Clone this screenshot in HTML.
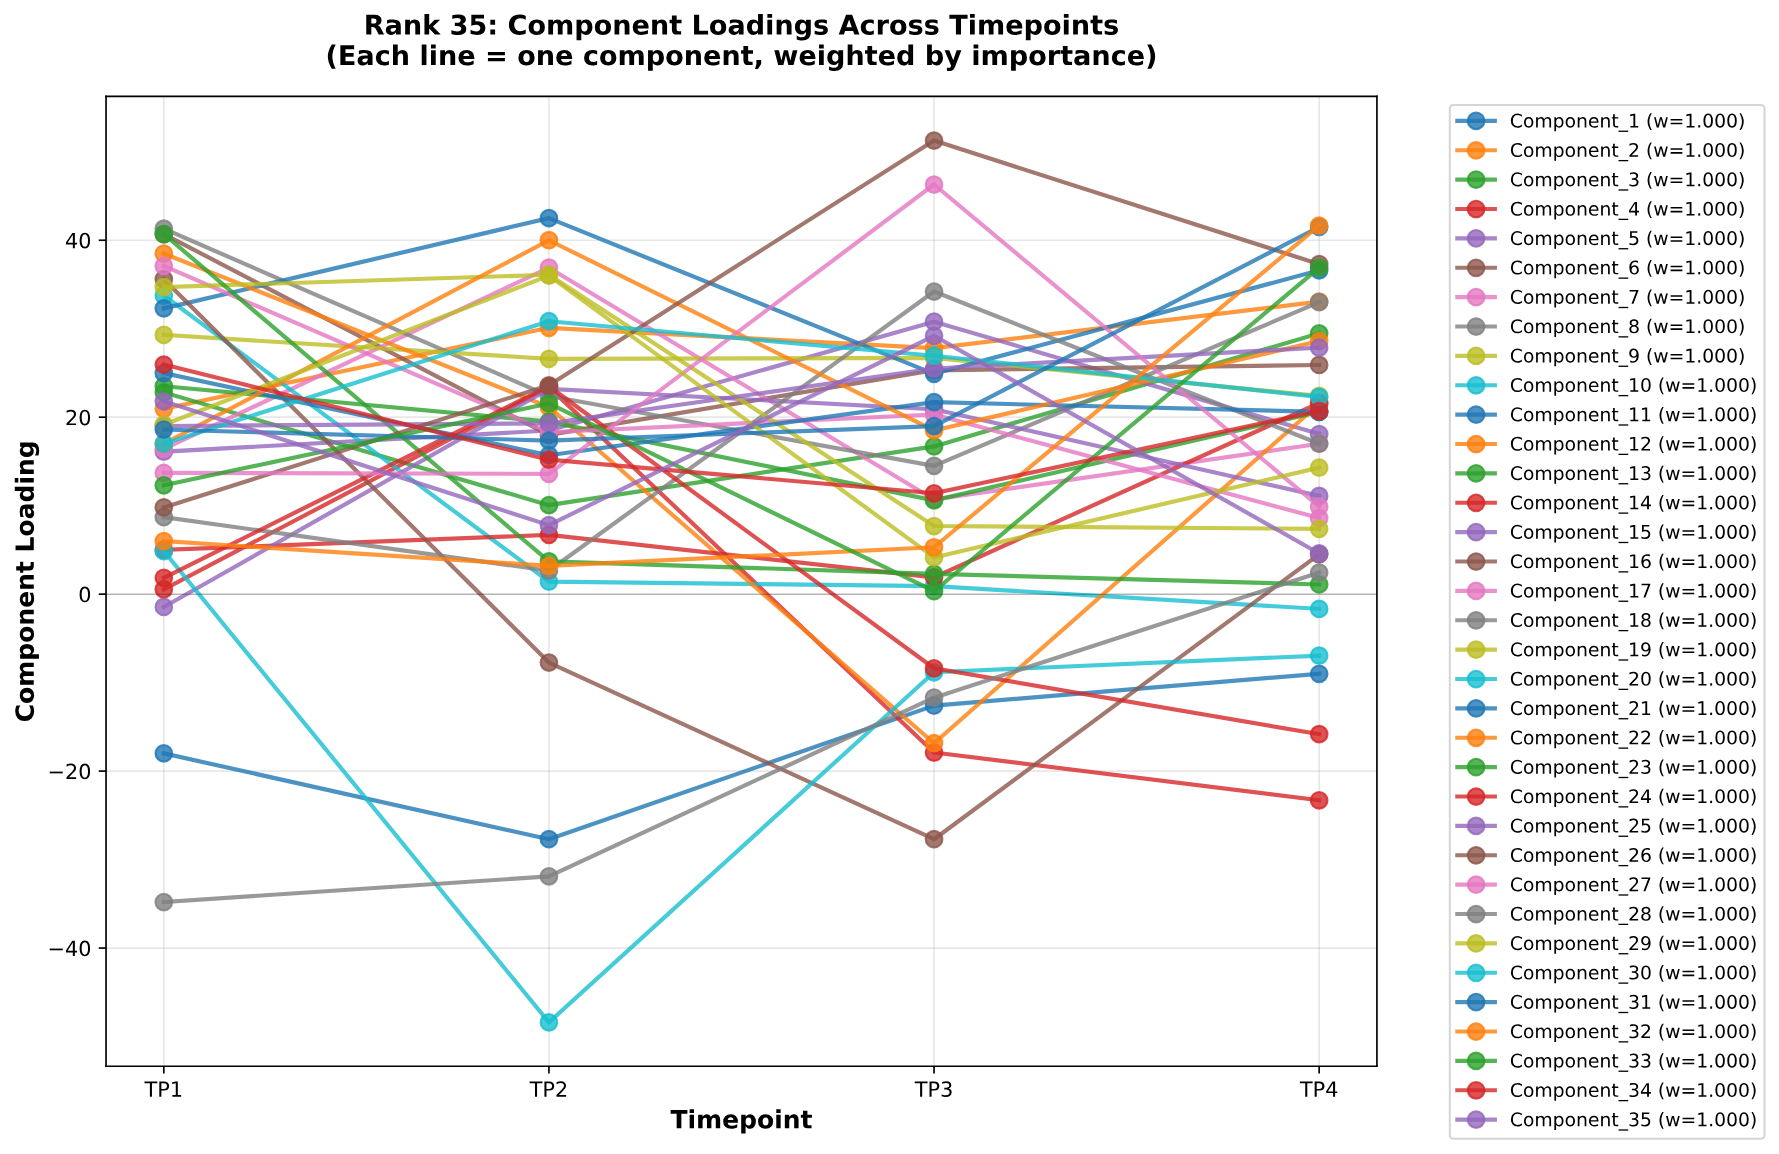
<!DOCTYPE html>
<html><head><meta charset="utf-8"><title>Rank 35: Component Loadings Across Timepoints</title>
<style>html,body{margin:0;padding:0;background:#fff;width:1779px;height:1154px;overflow:hidden;font-family:"Liberation Sans",sans-serif}svg{display:block}</style>
</head><body>
<svg width="1779" height="1154" viewBox="0 0 853.92 553.92" version="1.1">
<defs>
<style type="text/css">*{stroke-linejoin: round; stroke-linecap: butt}</style>
</defs>
<g id="figure_1">
<g id="patch_1">
<path d="M 0 553.92
L 853.92 553.92
L 853.92 0
L 0 0
z
" style="fill: #ffffff"/>
</g>
<g id="axes_1">
<g id="patch_2">
<path d="M 50.904 511.812
L 660.924 511.812
L 660.924 46.248
L 50.904 46.248
z
" style="fill: #ffffff"/>
</g>
<g id="matplotlib.axis_1">
<g id="xtick_1">
<g id="line2d_1">
<path d="M 78.632182 511.812
L 78.632182 46.248
" clip-path="url(#pc95b3b33d3)" style="fill: none; stroke: #b0b0b0; stroke-opacity: 0.3; stroke-width: 0.8; stroke-linecap: square"/>
</g>
<g id="line2d_2">
<defs>
<path id="m1504cfccaf" d="M 0 0
L 0 3.5
" style="stroke: #000000; stroke-width: 0.8"/>
</defs>
<g>
<use xlink:href="#m1504cfccaf" x="78.632182" y="511.812" style="stroke: #000000; stroke-width: 0.8"/>
</g>
</g>
<g id="text_1">
<!-- TP1 -->
<g transform="translate(69.382182 526.410437) scale(0.1 -0.1)">
<defs>
<path id="DejaVuSans-54" d="M -19 4666
L 3928 4666
L 3928 4134
L 2272 4134
L 2272 0
L 1638 0
L 1638 4134
L -19 4134
L -19 4666
z
" transform="scale(0.015625)"/>
<path id="DejaVuSans-50" d="M 1259 4147
L 1259 2394
L 2053 2394
Q 2494 2394 2734 2622
Q 2975 2850 2975 3272
Q 2975 3691 2734 3919
Q 2494 4147 2053 4147
L 1259 4147
z
M 628 4666
L 2053 4666
Q 2838 4666 3239 4311
Q 3641 3956 3641 3272
Q 3641 2581 3239 2228
Q 2838 1875 2053 1875
L 1259 1875
L 1259 0
L 628 0
L 628 4666
z
" transform="scale(0.015625)"/>
<path id="DejaVuSans-31" d="M 794 531
L 1825 531
L 1825 4091
L 703 3866
L 703 4441
L 1819 4666
L 2450 4666
L 2450 531
L 3481 531
L 3481 0
L 794 0
L 794 531
z
" transform="scale(0.015625)"/>
</defs>
<use xlink:href="#DejaVuSans-54"/>
<use xlink:href="#DejaVuSans-50" transform="translate(61.083984 0)"/>
<use xlink:href="#DejaVuSans-31" transform="translate(121.386719 0)"/>
</g>
</g>
</g>
<g id="xtick_2">
<g id="line2d_3">
<path d="M 263.486727 511.812
L 263.486727 46.248
" clip-path="url(#pc95b3b33d3)" style="fill: none; stroke: #b0b0b0; stroke-opacity: 0.3; stroke-width: 0.8; stroke-linecap: square"/>
</g>
<g id="line2d_4">
<g>
<use xlink:href="#m1504cfccaf" x="263.486727" y="511.812" style="stroke: #000000; stroke-width: 0.8"/>
</g>
</g>
<g id="text_2">
<!-- TP2 -->
<g transform="translate(254.236727 526.410437) scale(0.1 -0.1)">
<defs>
<path id="DejaVuSans-32" d="M 1228 531
L 3431 531
L 3431 0
L 469 0
L 469 531
Q 828 903 1448 1529
Q 2069 2156 2228 2338
Q 2531 2678 2651 2914
Q 2772 3150 2772 3378
Q 2772 3750 2511 3984
Q 2250 4219 1831 4219
Q 1534 4219 1204 4116
Q 875 4013 500 3803
L 500 4441
Q 881 4594 1212 4672
Q 1544 4750 1819 4750
Q 2544 4750 2975 4387
Q 3406 4025 3406 3419
Q 3406 3131 3298 2873
Q 3191 2616 2906 2266
Q 2828 2175 2409 1742
Q 1991 1309 1228 531
z
" transform="scale(0.015625)"/>
</defs>
<use xlink:href="#DejaVuSans-54"/>
<use xlink:href="#DejaVuSans-50" transform="translate(61.083984 0)"/>
<use xlink:href="#DejaVuSans-32" transform="translate(121.386719 0)"/>
</g>
</g>
</g>
<g id="xtick_3">
<g id="line2d_5">
<path d="M 448.341273 511.812
L 448.341273 46.248
" clip-path="url(#pc95b3b33d3)" style="fill: none; stroke: #b0b0b0; stroke-opacity: 0.3; stroke-width: 0.8; stroke-linecap: square"/>
</g>
<g id="line2d_6">
<g>
<use xlink:href="#m1504cfccaf" x="448.341273" y="511.812" style="stroke: #000000; stroke-width: 0.8"/>
</g>
</g>
<g id="text_3">
<!-- TP3 -->
<g transform="translate(439.091273 526.410437) scale(0.1 -0.1)">
<defs>
<path id="DejaVuSans-33" d="M 2597 2516
Q 3050 2419 3304 2112
Q 3559 1806 3559 1356
Q 3559 666 3084 287
Q 2609 -91 1734 -91
Q 1441 -91 1130 -33
Q 819 25 488 141
L 488 750
Q 750 597 1062 519
Q 1375 441 1716 441
Q 2309 441 2620 675
Q 2931 909 2931 1356
Q 2931 1769 2642 2001
Q 2353 2234 1838 2234
L 1294 2234
L 1294 2753
L 1863 2753
Q 2328 2753 2575 2939
Q 2822 3125 2822 3475
Q 2822 3834 2567 4026
Q 2313 4219 1838 4219
Q 1578 4219 1281 4162
Q 984 4106 628 3988
L 628 4550
Q 988 4650 1302 4700
Q 1616 4750 1894 4750
Q 2613 4750 3031 4423
Q 3450 4097 3450 3541
Q 3450 3153 3228 2886
Q 3006 2619 2597 2516
z
" transform="scale(0.015625)"/>
</defs>
<use xlink:href="#DejaVuSans-54"/>
<use xlink:href="#DejaVuSans-50" transform="translate(61.083984 0)"/>
<use xlink:href="#DejaVuSans-33" transform="translate(121.386719 0)"/>
</g>
</g>
</g>
<g id="xtick_4">
<g id="line2d_7">
<path d="M 633.195818 511.812
L 633.195818 46.248
" clip-path="url(#pc95b3b33d3)" style="fill: none; stroke: #b0b0b0; stroke-opacity: 0.3; stroke-width: 0.8; stroke-linecap: square"/>
</g>
<g id="line2d_8">
<g>
<use xlink:href="#m1504cfccaf" x="633.195818" y="511.812" style="stroke: #000000; stroke-width: 0.8"/>
</g>
</g>
<g id="text_4">
<!-- TP4 -->
<g transform="translate(623.945818 526.410437) scale(0.1 -0.1)">
<defs>
<path id="DejaVuSans-34" d="M 2419 4116
L 825 1625
L 2419 1625
L 2419 4116
z
M 2253 4666
L 3047 4666
L 3047 1625
L 3713 1625
L 3713 1100
L 3047 1100
L 3047 0
L 2419 0
L 2419 1100
L 313 1100
L 313 1709
L 2253 4666
z
" transform="scale(0.015625)"/>
</defs>
<use xlink:href="#DejaVuSans-54"/>
<use xlink:href="#DejaVuSans-50" transform="translate(61.083984 0)"/>
<use xlink:href="#DejaVuSans-34" transform="translate(121.386719 0)"/>
</g>
</g>
</g>
<g id="text_5">
<!-- Timepoint -->
<g transform="translate(321.829313 541.60825) scale(0.12 -0.12)">
<defs>
<path id="DejaVuSans-Bold-54" d="M 31 4666
L 4331 4666
L 4331 3756
L 2784 3756
L 2784 0
L 1581 0
L 1581 3756
L 31 3756
L 31 4666
z
" transform="scale(0.015625)"/>
<path id="DejaVuSans-Bold-69" d="M 538 3500
L 1656 3500
L 1656 0
L 538 0
L 538 3500
z
M 538 4863
L 1656 4863
L 1656 3950
L 538 3950
L 538 4863
z
" transform="scale(0.015625)"/>
<path id="DejaVuSans-Bold-6d" d="M 3781 2919
Q 3994 3244 4286 3414
Q 4578 3584 4928 3584
Q 5531 3584 5847 3212
Q 6163 2841 6163 2131
L 6163 0
L 5038 0
L 5038 1825
Q 5041 1866 5042 1909
Q 5044 1953 5044 2034
Q 5044 2406 4934 2573
Q 4825 2741 4581 2741
Q 4263 2741 4089 2478
Q 3916 2216 3909 1719
L 3909 0
L 2784 0
L 2784 1825
Q 2784 2406 2684 2573
Q 2584 2741 2328 2741
Q 2006 2741 1831 2477
Q 1656 2213 1656 1722
L 1656 0
L 531 0
L 531 3500
L 1656 3500
L 1656 2988
Q 1863 3284 2130 3434
Q 2397 3584 2719 3584
Q 3081 3584 3359 3409
Q 3638 3234 3781 2919
z
" transform="scale(0.015625)"/>
<path id="DejaVuSans-Bold-65" d="M 4031 1759
L 4031 1441
L 1416 1441
Q 1456 1047 1700 850
Q 1944 653 2381 653
Q 2734 653 3104 758
Q 3475 863 3866 1075
L 3866 213
Q 3469 63 3072 -14
Q 2675 -91 2278 -91
Q 1328 -91 801 392
Q 275 875 275 1747
Q 275 2603 792 3093
Q 1309 3584 2216 3584
Q 3041 3584 3536 3087
Q 4031 2591 4031 1759
z
M 2881 2131
Q 2881 2450 2695 2645
Q 2509 2841 2209 2841
Q 1884 2841 1681 2658
Q 1478 2475 1428 2131
L 2881 2131
z
" transform="scale(0.015625)"/>
<path id="DejaVuSans-Bold-70" d="M 1656 506
L 1656 -1331
L 538 -1331
L 538 3500
L 1656 3500
L 1656 2988
Q 1888 3294 2169 3439
Q 2450 3584 2816 3584
Q 3463 3584 3878 3070
Q 4294 2556 4294 1747
Q 4294 938 3878 423
Q 3463 -91 2816 -91
Q 2450 -91 2169 54
Q 1888 200 1656 506
z
M 2400 2772
Q 2041 2772 1848 2508
Q 1656 2244 1656 1747
Q 1656 1250 1848 986
Q 2041 722 2400 722
Q 2759 722 2948 984
Q 3138 1247 3138 1747
Q 3138 2247 2948 2509
Q 2759 2772 2400 2772
z
" transform="scale(0.015625)"/>
<path id="DejaVuSans-Bold-6f" d="M 2203 2784
Q 1831 2784 1636 2517
Q 1441 2250 1441 1747
Q 1441 1244 1636 976
Q 1831 709 2203 709
Q 2569 709 2762 976
Q 2956 1244 2956 1747
Q 2956 2250 2762 2517
Q 2569 2784 2203 2784
z
M 2203 3584
Q 3106 3584 3614 3096
Q 4122 2609 4122 1747
Q 4122 884 3614 396
Q 3106 -91 2203 -91
Q 1297 -91 786 396
Q 275 884 275 1747
Q 275 2609 786 3096
Q 1297 3584 2203 3584
z
" transform="scale(0.015625)"/>
<path id="DejaVuSans-Bold-6e" d="M 4056 2131
L 4056 0
L 2931 0
L 2931 347
L 2931 1631
Q 2931 2084 2911 2256
Q 2891 2428 2841 2509
Q 2775 2619 2662 2680
Q 2550 2741 2406 2741
Q 2056 2741 1856 2470
Q 1656 2200 1656 1722
L 1656 0
L 538 0
L 538 3500
L 1656 3500
L 1656 2988
Q 1909 3294 2193 3439
Q 2478 3584 2822 3584
Q 3428 3584 3742 3212
Q 4056 2841 4056 2131
z
" transform="scale(0.015625)"/>
<path id="DejaVuSans-Bold-74" d="M 1759 4494
L 1759 3500
L 2913 3500
L 2913 2700
L 1759 2700
L 1759 1216
Q 1759 972 1856 886
Q 1953 800 2241 800
L 2816 800
L 2816 0
L 1856 0
Q 1194 0 917 276
Q 641 553 641 1216
L 641 2700
L 84 2700
L 84 3500
L 641 3500
L 641 4494
L 1759 4494
z
" transform="scale(0.015625)"/>
</defs>
<use xlink:href="#DejaVuSans-Bold-54"/>
<use xlink:href="#DejaVuSans-Bold-69" transform="translate(68.212891 0)"/>
<use xlink:href="#DejaVuSans-Bold-6d" transform="translate(102.490234 0)"/>
<use xlink:href="#DejaVuSans-Bold-65" transform="translate(206.689453 0)"/>
<use xlink:href="#DejaVuSans-Bold-70" transform="translate(274.511719 0)"/>
<use xlink:href="#DejaVuSans-Bold-6f" transform="translate(346.09375 0)"/>
<use xlink:href="#DejaVuSans-Bold-69" transform="translate(414.794922 0)"/>
<use xlink:href="#DejaVuSans-Bold-6e" transform="translate(449.072266 0)"/>
<use xlink:href="#DejaVuSans-Bold-74" transform="translate(520.263672 0)"/>
</g>
</g>
</g>
<g id="matplotlib.axis_2">
<g id="ytick_1">
<g id="line2d_9">
<path d="M 50.904 455.062005
L 660.924 455.062005
" clip-path="url(#pc95b3b33d3)" style="fill: none; stroke: #b0b0b0; stroke-opacity: 0.3; stroke-width: 0.8; stroke-linecap: square"/>
</g>
<g id="line2d_10">
<defs>
<path id="m5d545ce8f8" d="M 0 0
L -3.5 0
" style="stroke: #000000; stroke-width: 0.8"/>
</defs>
<g>
<use xlink:href="#m5d545ce8f8" x="50.904" y="455.062005" style="stroke: #000000; stroke-width: 0.8"/>
</g>
</g>
<g id="text_6">
<!-- −40 -->
<g transform="translate(22.799312 458.861223) scale(0.1 -0.1)">
<defs>
<path id="DejaVuSans-2212" d="M 678 2272
L 4684 2272
L 4684 1741
L 678 1741
L 678 2272
z
" transform="scale(0.015625)"/>
<path id="DejaVuSans-30" d="M 2034 4250
Q 1547 4250 1301 3770
Q 1056 3291 1056 2328
Q 1056 1369 1301 889
Q 1547 409 2034 409
Q 2525 409 2770 889
Q 3016 1369 3016 2328
Q 3016 3291 2770 3770
Q 2525 4250 2034 4250
z
M 2034 4750
Q 2819 4750 3233 4129
Q 3647 3509 3647 2328
Q 3647 1150 3233 529
Q 2819 -91 2034 -91
Q 1250 -91 836 529
Q 422 1150 422 2328
Q 422 3509 836 4129
Q 1250 4750 2034 4750
z
" transform="scale(0.015625)"/>
</defs>
<use xlink:href="#DejaVuSans-2212"/>
<use xlink:href="#DejaVuSans-34" transform="translate(83.789062 0)"/>
<use xlink:href="#DejaVuSans-30" transform="translate(147.412109 0)"/>
</g>
</g>
</g>
<g id="ytick_2">
<g id="line2d_11">
<path d="M 50.904 370.125994
L 660.924 370.125994
" clip-path="url(#pc95b3b33d3)" style="fill: none; stroke: #b0b0b0; stroke-opacity: 0.3; stroke-width: 0.8; stroke-linecap: square"/>
</g>
<g id="line2d_12">
<g>
<use xlink:href="#m5d545ce8f8" x="50.904" y="370.125994" style="stroke: #000000; stroke-width: 0.8"/>
</g>
</g>
<g id="text_7">
<!-- −20 -->
<g transform="translate(22.799312 373.925213) scale(0.1 -0.1)">
<use xlink:href="#DejaVuSans-2212"/>
<use xlink:href="#DejaVuSans-32" transform="translate(83.789062 0)"/>
<use xlink:href="#DejaVuSans-30" transform="translate(147.412109 0)"/>
</g>
</g>
</g>
<g id="ytick_3">
<g id="line2d_13">
<path d="M 50.904 285.189984
L 660.924 285.189984
" clip-path="url(#pc95b3b33d3)" style="fill: none; stroke: #b0b0b0; stroke-opacity: 0.3; stroke-width: 0.8; stroke-linecap: square"/>
</g>
<g id="line2d_14">
<g>
<use xlink:href="#m5d545ce8f8" x="50.904" y="285.189984" style="stroke: #000000; stroke-width: 0.8"/>
</g>
</g>
<g id="text_8">
<!-- 0 -->
<g transform="translate(37.5415 288.989203) scale(0.1 -0.1)">
<use xlink:href="#DejaVuSans-30"/>
</g>
</g>
</g>
<g id="ytick_4">
<g id="line2d_15">
<path d="M 50.904 200.253974
L 660.924 200.253974
" clip-path="url(#pc95b3b33d3)" style="fill: none; stroke: #b0b0b0; stroke-opacity: 0.3; stroke-width: 0.8; stroke-linecap: square"/>
</g>
<g id="line2d_16">
<g>
<use xlink:href="#m5d545ce8f8" x="50.904" y="200.253974" style="stroke: #000000; stroke-width: 0.8"/>
</g>
</g>
<g id="text_9">
<!-- 20 -->
<g transform="translate(31.179 204.053193) scale(0.1 -0.1)">
<use xlink:href="#DejaVuSans-32"/>
<use xlink:href="#DejaVuSans-30" transform="translate(63.623047 0)"/>
</g>
</g>
</g>
<g id="ytick_5">
<g id="line2d_17">
<path d="M 50.904 115.317964
L 660.924 115.317964
" clip-path="url(#pc95b3b33d3)" style="fill: none; stroke: #b0b0b0; stroke-opacity: 0.3; stroke-width: 0.8; stroke-linecap: square"/>
</g>
<g id="line2d_18">
<g>
<use xlink:href="#m5d545ce8f8" x="50.904" y="115.317964" style="stroke: #000000; stroke-width: 0.8"/>
</g>
</g>
<g id="text_10">
<!-- 40 -->
<g transform="translate(31.179 119.117182) scale(0.1 -0.1)">
<use xlink:href="#DejaVuSans-34"/>
<use xlink:href="#DejaVuSans-30" transform="translate(63.623047 0)"/>
</g>
</g>
</g>
<g id="text_11">
<!-- Component Loading -->
<g transform="translate(16.209937 346.705312) rotate(-90) scale(0.12 -0.12)">
<defs>
<path id="DejaVuSans-Bold-43" d="M 4288 256
Q 3956 84 3597 -3
Q 3238 -91 2847 -91
Q 1681 -91 1000 561
Q 319 1213 319 2328
Q 319 3447 1000 4098
Q 1681 4750 2847 4750
Q 3238 4750 3597 4662
Q 3956 4575 4288 4403
L 4288 3438
Q 3953 3666 3628 3772
Q 3303 3878 2944 3878
Q 2300 3878 1931 3465
Q 1563 3053 1563 2328
Q 1563 1606 1931 1193
Q 2300 781 2944 781
Q 3303 781 3628 887
Q 3953 994 4288 1222
L 4288 256
z
" transform="scale(0.015625)"/>
<path id="DejaVuSans-Bold-20" transform="scale(0.015625)"/>
<path id="DejaVuSans-Bold-4c" d="M 588 4666
L 1791 4666
L 1791 909
L 3903 909
L 3903 0
L 588 0
L 588 4666
z
" transform="scale(0.015625)"/>
<path id="DejaVuSans-Bold-61" d="M 2106 1575
Q 1756 1575 1579 1456
Q 1403 1338 1403 1106
Q 1403 894 1545 773
Q 1688 653 1941 653
Q 2256 653 2472 879
Q 2688 1106 2688 1447
L 2688 1575
L 2106 1575
z
M 3816 1997
L 3816 0
L 2688 0
L 2688 519
Q 2463 200 2181 54
Q 1900 -91 1497 -91
Q 953 -91 614 226
Q 275 544 275 1050
Q 275 1666 698 1953
Q 1122 2241 2028 2241
L 2688 2241
L 2688 2328
Q 2688 2594 2478 2717
Q 2269 2841 1825 2841
Q 1466 2841 1156 2769
Q 847 2697 581 2553
L 581 3406
Q 941 3494 1303 3539
Q 1666 3584 2028 3584
Q 2975 3584 3395 3211
Q 3816 2838 3816 1997
z
" transform="scale(0.015625)"/>
<path id="DejaVuSans-Bold-64" d="M 2919 2988
L 2919 4863
L 4044 4863
L 4044 0
L 2919 0
L 2919 506
Q 2688 197 2409 53
Q 2131 -91 1766 -91
Q 1119 -91 703 423
Q 288 938 288 1747
Q 288 2556 703 3070
Q 1119 3584 1766 3584
Q 2128 3584 2408 3439
Q 2688 3294 2919 2988
z
M 2181 722
Q 2541 722 2730 984
Q 2919 1247 2919 1747
Q 2919 2247 2730 2509
Q 2541 2772 2181 2772
Q 1825 2772 1636 2509
Q 1447 2247 1447 1747
Q 1447 1247 1636 984
Q 1825 722 2181 722
z
" transform="scale(0.015625)"/>
<path id="DejaVuSans-Bold-67" d="M 2919 594
Q 2688 288 2409 144
Q 2131 0 1766 0
Q 1125 0 706 504
Q 288 1009 288 1791
Q 288 2575 706 3076
Q 1125 3578 1766 3578
Q 2131 3578 2409 3434
Q 2688 3291 2919 2981
L 2919 3500
L 4044 3500
L 4044 353
Q 4044 -491 3511 -936
Q 2978 -1381 1966 -1381
Q 1638 -1381 1331 -1331
Q 1025 -1281 716 -1178
L 716 -306
Q 1009 -475 1290 -558
Q 1572 -641 1856 -641
Q 2406 -641 2662 -400
Q 2919 -159 2919 353
L 2919 594
z
M 2181 2772
Q 1834 2772 1640 2515
Q 1447 2259 1447 1791
Q 1447 1309 1634 1061
Q 1822 813 2181 813
Q 2531 813 2725 1069
Q 2919 1325 2919 1791
Q 2919 2259 2725 2515
Q 2531 2772 2181 2772
z
" transform="scale(0.015625)"/>
</defs>
<use xlink:href="#DejaVuSans-Bold-43"/>
<use xlink:href="#DejaVuSans-Bold-6f" transform="translate(73.388672 0)"/>
<use xlink:href="#DejaVuSans-Bold-6d" transform="translate(142.089844 0)"/>
<use xlink:href="#DejaVuSans-Bold-70" transform="translate(246.289062 0)"/>
<use xlink:href="#DejaVuSans-Bold-6f" transform="translate(317.871094 0)"/>
<use xlink:href="#DejaVuSans-Bold-6e" transform="translate(386.572266 0)"/>
<use xlink:href="#DejaVuSans-Bold-65" transform="translate(457.763672 0)"/>
<use xlink:href="#DejaVuSans-Bold-6e" transform="translate(525.585938 0)"/>
<use xlink:href="#DejaVuSans-Bold-74" transform="translate(596.777344 0)"/>
<use xlink:href="#DejaVuSans-Bold-20" transform="translate(644.580078 0)"/>
<use xlink:href="#DejaVuSans-Bold-4c" transform="translate(679.394531 0)"/>
<use xlink:href="#DejaVuSans-Bold-6f" transform="translate(743.115234 0)"/>
<use xlink:href="#DejaVuSans-Bold-61" transform="translate(811.816406 0)"/>
<use xlink:href="#DejaVuSans-Bold-64" transform="translate(879.296875 0)"/>
<use xlink:href="#DejaVuSans-Bold-69" transform="translate(950.878906 0)"/>
<use xlink:href="#DejaVuSans-Bold-6e" transform="translate(985.15625 0)"/>
<use xlink:href="#DejaVuSans-Bold-67" transform="translate(1056.347656 0)"/>
</g>
</g>
</g>
<g id="line2d_19">
<path d="M 78.632182 361.632393
L 263.486727 402.826358
L 448.341273 338.699671
L 633.195818 323.411189
" clip-path="url(#pc95b3b33d3)" style="fill: none; stroke: #1f77b4; stroke-opacity: 0.8; stroke-width: 2; stroke-linecap: square"/>
<defs>
<path id="m16b95cd49c" d="M 0 4
C 1.060812 4 2.078319 3.578535 2.828427 2.828427
C 3.578535 2.078319 4 1.060812 4 0
C 4 -1.060812 3.578535 -2.078319 2.828427 -2.828427
C 2.078319 -3.578535 1.060812 -4 0 -4
C -1.060812 -4 -2.078319 -3.578535 -2.828427 -2.828427
C -3.578535 -2.078319 -4 -1.060812 -4 0
C -4 1.060812 -3.578535 2.078319 -2.828427 2.828427
C -2.078319 3.578535 -1.060812 4 0 4
z
" style="stroke: #1f77b4; stroke-opacity: 0.8"/>
</defs>
<g clip-path="url(#pc95b3b33d3)">
<use xlink:href="#m16b95cd49c" x="78.632182" y="361.632393" style="fill: #1f77b4; fill-opacity: 0.8; stroke: #1f77b4; stroke-opacity: 0.8"/>
<use xlink:href="#m16b95cd49c" x="263.486727" y="402.826358" style="fill: #1f77b4; fill-opacity: 0.8; stroke: #1f77b4; stroke-opacity: 0.8"/>
<use xlink:href="#m16b95cd49c" x="448.341273" y="338.699671" style="fill: #1f77b4; fill-opacity: 0.8; stroke: #1f77b4; stroke-opacity: 0.8"/>
<use xlink:href="#m16b95cd49c" x="633.195818" y="323.411189" style="fill: #1f77b4; fill-opacity: 0.8; stroke: #1f77b4; stroke-opacity: 0.8"/>
</g>
</g>
<g id="line2d_20">
<path d="M 78.632182 196.219513
L 263.486727 157.361289
L 448.341273 167.12893
L 633.195818 144.790759
" clip-path="url(#pc95b3b33d3)" style="fill: none; stroke: #ff7f0e; stroke-opacity: 0.8; stroke-width: 2; stroke-linecap: square"/>
<defs>
<path id="mc286945798" d="M 0 4
C 1.060812 4 2.078319 3.578535 2.828427 2.828427
C 3.578535 2.078319 4 1.060812 4 0
C 4 -1.060812 3.578535 -2.078319 2.828427 -2.828427
C 2.078319 -3.578535 1.060812 -4 0 -4
C -1.060812 -4 -2.078319 -3.578535 -2.828427 -2.828427
C -3.578535 -2.078319 -4 -1.060812 -4 0
C -4 1.060812 -3.578535 2.078319 -2.828427 2.828427
C -2.078319 3.578535 -1.060812 4 0 4
z
" style="stroke: #ff7f0e; stroke-opacity: 0.8"/>
</defs>
<g clip-path="url(#pc95b3b33d3)">
<use xlink:href="#mc286945798" x="78.632182" y="196.219513" style="fill: #ff7f0e; fill-opacity: 0.8; stroke: #ff7f0e; stroke-opacity: 0.8"/>
<use xlink:href="#mc286945798" x="263.486727" y="157.361289" style="fill: #ff7f0e; fill-opacity: 0.8; stroke: #ff7f0e; stroke-opacity: 0.8"/>
<use xlink:href="#mc286945798" x="448.341273" y="167.12893" style="fill: #ff7f0e; fill-opacity: 0.8; stroke: #ff7f0e; stroke-opacity: 0.8"/>
<use xlink:href="#mc286945798" x="633.195818" y="144.790759" style="fill: #ff7f0e; fill-opacity: 0.8; stroke: #ff7f0e; stroke-opacity: 0.8"/>
</g>
</g>
<g id="line2d_21">
<path d="M 78.632182 188.362932
L 263.486727 242.467171
L 448.341273 214.268416
L 633.195818 160.036773
" clip-path="url(#pc95b3b33d3)" style="fill: none; stroke: #2ca02c; stroke-opacity: 0.8; stroke-width: 2; stroke-linecap: square"/>
<defs>
<path id="ma26eeebb79" d="M 0 4
C 1.060812 4 2.078319 3.578535 2.828427 2.828427
C 3.578535 2.078319 4 1.060812 4 0
C 4 -1.060812 3.578535 -2.078319 2.828427 -2.828427
C 2.078319 -3.578535 1.060812 -4 0 -4
C -1.060812 -4 -2.078319 -3.578535 -2.828427 -2.828427
C -3.578535 -2.078319 -4 -1.060812 -4 0
C -4 1.060812 -3.578535 2.078319 -2.828427 2.828427
C -2.078319 3.578535 -1.060812 4 0 4
z
" style="stroke: #2ca02c; stroke-opacity: 0.8"/>
</defs>
<g clip-path="url(#pc95b3b33d3)">
<use xlink:href="#ma26eeebb79" x="78.632182" y="188.362932" style="fill: #2ca02c; fill-opacity: 0.8; stroke: #2ca02c; stroke-opacity: 0.8"/>
<use xlink:href="#ma26eeebb79" x="263.486727" y="242.467171" style="fill: #2ca02c; fill-opacity: 0.8; stroke: #2ca02c; stroke-opacity: 0.8"/>
<use xlink:href="#ma26eeebb79" x="448.341273" y="214.268416" style="fill: #2ca02c; fill-opacity: 0.8; stroke: #2ca02c; stroke-opacity: 0.8"/>
<use xlink:href="#ma26eeebb79" x="633.195818" y="160.036773" style="fill: #2ca02c; fill-opacity: 0.8; stroke: #2ca02c; stroke-opacity: 0.8"/>
</g>
</g>
<g id="line2d_22">
<path d="M 78.632182 282.896712
L 263.486727 185.814852
L 448.341273 361.207713
L 633.195818 384.140436
" clip-path="url(#pc95b3b33d3)" style="fill: none; stroke: #d62728; stroke-opacity: 0.8; stroke-width: 2; stroke-linecap: square"/>
<defs>
<path id="m9cf5913db1" d="M 0 4
C 1.060812 4 2.078319 3.578535 2.828427 2.828427
C 3.578535 2.078319 4 1.060812 4 0
C 4 -1.060812 3.578535 -2.078319 2.828427 -2.828427
C 2.078319 -3.578535 1.060812 -4 0 -4
C -1.060812 -4 -2.078319 -3.578535 -2.828427 -2.828427
C -3.578535 -2.078319 -4 -1.060812 -4 0
C -4 1.060812 -3.578535 2.078319 -2.828427 2.828427
C -2.078319 3.578535 -1.060812 4 0 4
z
" style="stroke: #d62728; stroke-opacity: 0.8"/>
</defs>
<g clip-path="url(#pc95b3b33d3)">
<use xlink:href="#m9cf5913db1" x="78.632182" y="282.896712" style="fill: #d62728; fill-opacity: 0.8; stroke: #d62728; stroke-opacity: 0.8"/>
<use xlink:href="#m9cf5913db1" x="263.486727" y="185.814852" style="fill: #d62728; fill-opacity: 0.8; stroke: #d62728; stroke-opacity: 0.8"/>
<use xlink:href="#m9cf5913db1" x="448.341273" y="361.207713" style="fill: #d62728; fill-opacity: 0.8; stroke: #d62728; stroke-opacity: 0.8"/>
<use xlink:href="#m9cf5913db1" x="633.195818" y="384.140436" style="fill: #d62728; fill-opacity: 0.8; stroke: #d62728; stroke-opacity: 0.8"/>
</g>
</g>
<g id="line2d_23">
<path d="M 78.632182 216.816496
L 263.486727 206.624175
L 448.341273 154.388528
L 633.195818 208.322895
" clip-path="url(#pc95b3b33d3)" style="fill: none; stroke: #9467bd; stroke-opacity: 0.8; stroke-width: 2; stroke-linecap: square"/>
<defs>
<path id="m5d28bd0f11" d="M 0 4
C 1.060812 4 2.078319 3.578535 2.828427 2.828427
C 3.578535 2.078319 4 1.060812 4 0
C 4 -1.060812 3.578535 -2.078319 2.828427 -2.828427
C 2.078319 -3.578535 1.060812 -4 0 -4
C -1.060812 -4 -2.078319 -3.578535 -2.828427 -2.828427
C -3.578535 -2.078319 -4 -1.060812 -4 0
C -4 1.060812 -3.578535 2.078319 -2.828427 2.828427
C -2.078319 3.578535 -1.060812 4 0 4
z
" style="stroke: #9467bd; stroke-opacity: 0.8"/>
</defs>
<g clip-path="url(#pc95b3b33d3)">
<use xlink:href="#m5d28bd0f11" x="78.632182" y="216.816496" style="fill: #9467bd; fill-opacity: 0.8; stroke: #9467bd; stroke-opacity: 0.8"/>
<use xlink:href="#m5d28bd0f11" x="263.486727" y="206.624175" style="fill: #9467bd; fill-opacity: 0.8; stroke: #9467bd; stroke-opacity: 0.8"/>
<use xlink:href="#m5d28bd0f11" x="448.341273" y="154.388528" style="fill: #9467bd; fill-opacity: 0.8; stroke: #9467bd; stroke-opacity: 0.8"/>
<use xlink:href="#m5d28bd0f11" x="633.195818" y="208.322895" style="fill: #9467bd; fill-opacity: 0.8; stroke: #9467bd; stroke-opacity: 0.8"/>
</g>
</g>
<g id="line2d_24">
<path d="M 78.632182 112.345203
L 263.486727 208.747575
L 448.341273 177.745931
L 633.195818 175.197851
" clip-path="url(#pc95b3b33d3)" style="fill: none; stroke: #8c564b; stroke-opacity: 0.8; stroke-width: 2; stroke-linecap: square"/>
<defs>
<path id="m76d8d4e232" d="M 0 4
C 1.060812 4 2.078319 3.578535 2.828427 2.828427
C 3.578535 2.078319 4 1.060812 4 0
C 4 -1.060812 3.578535 -2.078319 2.828427 -2.828427
C 2.078319 -3.578535 1.060812 -4 0 -4
C -1.060812 -4 -2.078319 -3.578535 -2.828427 -2.828427
C -3.578535 -2.078319 -4 -1.060812 -4 0
C -4 1.060812 -3.578535 2.078319 -2.828427 2.828427
C -2.078319 3.578535 -1.060812 4 0 4
z
" style="stroke: #8c564b; stroke-opacity: 0.8"/>
</defs>
<g clip-path="url(#pc95b3b33d3)">
<use xlink:href="#m76d8d4e232" x="78.632182" y="112.345203" style="fill: #8c564b; fill-opacity: 0.8; stroke: #8c564b; stroke-opacity: 0.8"/>
<use xlink:href="#m76d8d4e232" x="263.486727" y="208.747575" style="fill: #8c564b; fill-opacity: 0.8; stroke: #8c564b; stroke-opacity: 0.8"/>
<use xlink:href="#m76d8d4e232" x="448.341273" y="177.745931" style="fill: #8c564b; fill-opacity: 0.8; stroke: #8c564b; stroke-opacity: 0.8"/>
<use xlink:href="#m76d8d4e232" x="633.195818" y="175.197851" style="fill: #8c564b; fill-opacity: 0.8; stroke: #8c564b; stroke-opacity: 0.8"/>
</g>
</g>
<g id="line2d_25">
<path d="M 78.632182 215.542456
L 263.486727 128.483045
L 448.341273 239.749219
L 633.195818 212.994375
" clip-path="url(#pc95b3b33d3)" style="fill: none; stroke: #e377c2; stroke-opacity: 0.8; stroke-width: 2; stroke-linecap: square"/>
<defs>
<path id="m725551b6c6" d="M 0 4
C 1.060812 4 2.078319 3.578535 2.828427 2.828427
C 3.578535 2.078319 4 1.060812 4 0
C 4 -1.060812 3.578535 -2.078319 2.828427 -2.828427
C 2.078319 -3.578535 1.060812 -4 0 -4
C -1.060812 -4 -2.078319 -3.578535 -2.828427 -2.828427
C -3.578535 -2.078319 -4 -1.060812 -4 0
C -4 1.060812 -3.578535 2.078319 -2.828427 2.828427
C -2.078319 3.578535 -1.060812 4 0 4
z
" style="stroke: #e377c2; stroke-opacity: 0.8"/>
</defs>
<g clip-path="url(#pc95b3b33d3)">
<use xlink:href="#m725551b6c6" x="78.632182" y="215.542456" style="fill: #e377c2; fill-opacity: 0.8; stroke: #e377c2; stroke-opacity: 0.8"/>
<use xlink:href="#m725551b6c6" x="263.486727" y="128.483045" style="fill: #e377c2; fill-opacity: 0.8; stroke: #e377c2; stroke-opacity: 0.8"/>
<use xlink:href="#m725551b6c6" x="448.341273" y="239.749219" style="fill: #e377c2; fill-opacity: 0.8; stroke: #e377c2; stroke-opacity: 0.8"/>
<use xlink:href="#m725551b6c6" x="633.195818" y="212.994375" style="fill: #e377c2; fill-opacity: 0.8; stroke: #e377c2; stroke-opacity: 0.8"/>
</g>
</g>
<g id="line2d_26">
<path d="M 78.632182 109.797123
L 263.486727 190.061653
L 448.341273 223.611377
L 633.195818 145.045567
" clip-path="url(#pc95b3b33d3)" style="fill: none; stroke: #7f7f7f; stroke-opacity: 0.8; stroke-width: 2; stroke-linecap: square"/>
<defs>
<path id="ma17308275d" d="M 0 4
C 1.060812 4 2.078319 3.578535 2.828427 2.828427
C 3.578535 2.078319 4 1.060812 4 0
C 4 -1.060812 3.578535 -2.078319 2.828427 -2.828427
C 2.078319 -3.578535 1.060812 -4 0 -4
C -1.060812 -4 -2.078319 -3.578535 -2.828427 -2.828427
C -3.578535 -2.078319 -4 -1.060812 -4 0
C -4 1.060812 -3.578535 2.078319 -2.828427 2.828427
C -2.078319 3.578535 -1.060812 4 0 4
z
" style="stroke: #7f7f7f; stroke-opacity: 0.8"/>
</defs>
<g clip-path="url(#pc95b3b33d3)">
<use xlink:href="#ma17308275d" x="78.632182" y="109.797123" style="fill: #7f7f7f; fill-opacity: 0.8; stroke: #7f7f7f; stroke-opacity: 0.8"/>
<use xlink:href="#ma17308275d" x="263.486727" y="190.061653" style="fill: #7f7f7f; fill-opacity: 0.8; stroke: #7f7f7f; stroke-opacity: 0.8"/>
<use xlink:href="#ma17308275d" x="448.341273" y="223.611377" style="fill: #7f7f7f; fill-opacity: 0.8; stroke: #7f7f7f; stroke-opacity: 0.8"/>
<use xlink:href="#ma17308275d" x="633.195818" y="145.045567" style="fill: #7f7f7f; fill-opacity: 0.8; stroke: #7f7f7f; stroke-opacity: 0.8"/>
</g>
</g>
<g id="line2d_27">
<path d="M 78.632182 160.758729
L 263.486727 172.22509
L 448.341273 171.80041
L 633.195818 190.061653
" clip-path="url(#pc95b3b33d3)" style="fill: none; stroke: #bcbd22; stroke-opacity: 0.8; stroke-width: 2; stroke-linecap: square"/>
<defs>
<path id="mcc5aa6a2c8" d="M 0 4
C 1.060812 4 2.078319 3.578535 2.828427 2.828427
C 3.578535 2.078319 4 1.060812 4 0
C 4 -1.060812 3.578535 -2.078319 2.828427 -2.828427
C 2.078319 -3.578535 1.060812 -4 0 -4
C -1.060812 -4 -2.078319 -3.578535 -2.828427 -2.828427
C -3.578535 -2.078319 -4 -1.060812 -4 0
C -4 1.060812 -3.578535 2.078319 -2.828427 2.828427
C -2.078319 3.578535 -1.060812 4 0 4
z
" style="stroke: #bcbd22; stroke-opacity: 0.8"/>
</defs>
<g clip-path="url(#pc95b3b33d3)">
<use xlink:href="#mcc5aa6a2c8" x="78.632182" y="160.758729" style="fill: #bcbd22; fill-opacity: 0.8; stroke: #bcbd22; stroke-opacity: 0.8"/>
<use xlink:href="#mcc5aa6a2c8" x="263.486727" y="172.22509" style="fill: #bcbd22; fill-opacity: 0.8; stroke: #bcbd22; stroke-opacity: 0.8"/>
<use xlink:href="#mcc5aa6a2c8" x="448.341273" y="171.80041" style="fill: #bcbd22; fill-opacity: 0.8; stroke: #bcbd22; stroke-opacity: 0.8"/>
<use xlink:href="#mcc5aa6a2c8" x="633.195818" y="190.061653" style="fill: #bcbd22; fill-opacity: 0.8; stroke: #bcbd22; stroke-opacity: 0.8"/>
</g>
</g>
<g id="line2d_28">
<path d="M 78.632182 141.860467
L 263.486727 279.159527
L 448.341273 281.367864
L 633.195818 292.282141
" clip-path="url(#pc95b3b33d3)" style="fill: none; stroke: #17becf; stroke-opacity: 0.8; stroke-width: 2; stroke-linecap: square"/>
<defs>
<path id="m6e5e46f452" d="M 0 4
C 1.060812 4 2.078319 3.578535 2.828427 2.828427
C 3.578535 2.078319 4 1.060812 4 0
C 4 -1.060812 3.578535 -2.078319 2.828427 -2.828427
C 2.078319 -3.578535 1.060812 -4 0 -4
C -1.060812 -4 -2.078319 -3.578535 -2.828427 -2.828427
C -3.578535 -2.078319 -4 -1.060812 -4 0
C -4 1.060812 -3.578535 2.078319 -2.828427 2.828427
C -2.078319 3.578535 -1.060812 4 0 4
z
" style="stroke: #17becf; stroke-opacity: 0.8"/>
</defs>
<g clip-path="url(#pc95b3b33d3)">
<use xlink:href="#m6e5e46f452" x="78.632182" y="141.860467" style="fill: #17becf; fill-opacity: 0.8; stroke: #17becf; stroke-opacity: 0.8"/>
<use xlink:href="#m6e5e46f452" x="263.486727" y="279.159527" style="fill: #17becf; fill-opacity: 0.8; stroke: #17becf; stroke-opacity: 0.8"/>
<use xlink:href="#m6e5e46f452" x="448.341273" y="281.367864" style="fill: #17becf; fill-opacity: 0.8; stroke: #17becf; stroke-opacity: 0.8"/>
<use xlink:href="#m6e5e46f452" x="633.195818" y="292.282141" style="fill: #17becf; fill-opacity: 0.8; stroke: #17becf; stroke-opacity: 0.8"/>
</g>
</g>
<g id="line2d_29">
<path d="M 78.632182 148.018328
L 263.486727 104.700962
L 448.341273 179.444651
L 633.195818 129.757085
" clip-path="url(#pc95b3b33d3)" style="fill: none; stroke: #1f77b4; stroke-opacity: 0.8; stroke-width: 2; stroke-linecap: square"/>
<g clip-path="url(#pc95b3b33d3)">
<use xlink:href="#m16b95cd49c" x="78.632182" y="148.018328" style="fill: #1f77b4; fill-opacity: 0.8; stroke: #1f77b4; stroke-opacity: 0.8"/>
<use xlink:href="#m16b95cd49c" x="263.486727" y="104.700962" style="fill: #1f77b4; fill-opacity: 0.8; stroke: #1f77b4; stroke-opacity: 0.8"/>
<use xlink:href="#m16b95cd49c" x="448.341273" y="179.444651" style="fill: #1f77b4; fill-opacity: 0.8; stroke: #1f77b4; stroke-opacity: 0.8"/>
<use xlink:href="#m16b95cd49c" x="633.195818" y="129.757085" style="fill: #1f77b4; fill-opacity: 0.8; stroke: #1f77b4; stroke-opacity: 0.8"/>
</g>
</g>
<g id="line2d_30">
<path d="M 78.632182 121.688164
L 263.486727 195.370153
L 448.341273 356.748573
L 633.195818 193.883773
" clip-path="url(#pc95b3b33d3)" style="fill: none; stroke: #ff7f0e; stroke-opacity: 0.8; stroke-width: 2; stroke-linecap: square"/>
<g clip-path="url(#pc95b3b33d3)">
<use xlink:href="#mc286945798" x="78.632182" y="121.688164" style="fill: #ff7f0e; fill-opacity: 0.8; stroke: #ff7f0e; stroke-opacity: 0.8"/>
<use xlink:href="#mc286945798" x="263.486727" y="195.370153" style="fill: #ff7f0e; fill-opacity: 0.8; stroke: #ff7f0e; stroke-opacity: 0.8"/>
<use xlink:href="#mc286945798" x="448.341273" y="356.748573" style="fill: #ff7f0e; fill-opacity: 0.8; stroke: #ff7f0e; stroke-opacity: 0.8"/>
<use xlink:href="#mc286945798" x="633.195818" y="193.883773" style="fill: #ff7f0e; fill-opacity: 0.8; stroke: #ff7f0e; stroke-opacity: 0.8"/>
</g>
</g>
<g id="line2d_31">
<path d="M 78.632182 185.390172
L 263.486727 202.377374
L 448.341273 240.173899
L 633.195818 197.705894
" clip-path="url(#pc95b3b33d3)" style="fill: none; stroke: #2ca02c; stroke-opacity: 0.8; stroke-width: 2; stroke-linecap: square"/>
<g clip-path="url(#pc95b3b33d3)">
<use xlink:href="#ma26eeebb79" x="78.632182" y="185.390172" style="fill: #2ca02c; fill-opacity: 0.8; stroke: #2ca02c; stroke-opacity: 0.8"/>
<use xlink:href="#ma26eeebb79" x="263.486727" y="202.377374" style="fill: #2ca02c; fill-opacity: 0.8; stroke: #2ca02c; stroke-opacity: 0.8"/>
<use xlink:href="#ma26eeebb79" x="448.341273" y="240.173899" style="fill: #2ca02c; fill-opacity: 0.8; stroke: #2ca02c; stroke-opacity: 0.8"/>
<use xlink:href="#ma26eeebb79" x="633.195818" y="197.705894" style="fill: #2ca02c; fill-opacity: 0.8; stroke: #2ca02c; stroke-opacity: 0.8"/>
</g>
</g>
<g id="line2d_32">
<path d="M 78.632182 263.955982
L 263.486727 256.736421
L 448.341273 277.121063
L 633.195818 193.459093
" clip-path="url(#pc95b3b33d3)" style="fill: none; stroke: #d62728; stroke-opacity: 0.8; stroke-width: 2; stroke-linecap: square"/>
<g clip-path="url(#pc95b3b33d3)">
<use xlink:href="#m9cf5913db1" x="78.632182" y="263.955982" style="fill: #d62728; fill-opacity: 0.8; stroke: #d62728; stroke-opacity: 0.8"/>
<use xlink:href="#m9cf5913db1" x="263.486727" y="256.736421" style="fill: #d62728; fill-opacity: 0.8; stroke: #d62728; stroke-opacity: 0.8"/>
<use xlink:href="#m9cf5913db1" x="448.341273" y="277.121063" style="fill: #d62728; fill-opacity: 0.8; stroke: #d62728; stroke-opacity: 0.8"/>
<use xlink:href="#m9cf5913db1" x="633.195818" y="193.459093" style="fill: #d62728; fill-opacity: 0.8; stroke: #d62728; stroke-opacity: 0.8"/>
</g>
</g>
<g id="line2d_33">
<path d="M 78.632182 291.347845
L 263.486727 186.664212
L 448.341273 196.431853
L 633.195818 238.050498
" clip-path="url(#pc95b3b33d3)" style="fill: none; stroke: #9467bd; stroke-opacity: 0.8; stroke-width: 2; stroke-linecap: square"/>
<g clip-path="url(#pc95b3b33d3)">
<use xlink:href="#m5d28bd0f11" x="78.632182" y="291.347845" style="fill: #9467bd; fill-opacity: 0.8; stroke: #9467bd; stroke-opacity: 0.8"/>
<use xlink:href="#m5d28bd0f11" x="263.486727" y="186.664212" style="fill: #9467bd; fill-opacity: 0.8; stroke: #9467bd; stroke-opacity: 0.8"/>
<use xlink:href="#m5d28bd0f11" x="448.341273" y="196.431853" style="fill: #9467bd; fill-opacity: 0.8; stroke: #9467bd; stroke-opacity: 0.8"/>
<use xlink:href="#m5d28bd0f11" x="633.195818" y="238.050498" style="fill: #9467bd; fill-opacity: 0.8; stroke: #9467bd; stroke-opacity: 0.8"/>
</g>
</g>
<g id="line2d_34">
<path d="M 78.632182 134.003886
L 263.486727 318.017752
L 448.341273 402.826358
L 633.195818 266.079382
" clip-path="url(#pc95b3b33d3)" style="fill: none; stroke: #8c564b; stroke-opacity: 0.8; stroke-width: 2; stroke-linecap: square"/>
<g clip-path="url(#pc95b3b33d3)">
<use xlink:href="#m76d8d4e232" x="78.632182" y="134.003886" style="fill: #8c564b; fill-opacity: 0.8; stroke: #8c564b; stroke-opacity: 0.8"/>
<use xlink:href="#m76d8d4e232" x="263.486727" y="318.017752" style="fill: #8c564b; fill-opacity: 0.8; stroke: #8c564b; stroke-opacity: 0.8"/>
<use xlink:href="#m76d8d4e232" x="448.341273" y="402.826358" style="fill: #8c564b; fill-opacity: 0.8; stroke: #8c564b; stroke-opacity: 0.8"/>
<use xlink:href="#m76d8d4e232" x="633.195818" y="266.079382" style="fill: #8c564b; fill-opacity: 0.8; stroke: #8c564b; stroke-opacity: 0.8"/>
</g>
</g>
<g id="line2d_35">
<path d="M 78.632182 127.633685
L 263.486727 207.473535
L 448.341273 198.979934
L 633.195818 248.6675
" clip-path="url(#pc95b3b33d3)" style="fill: none; stroke: #e377c2; stroke-opacity: 0.8; stroke-width: 2; stroke-linecap: square"/>
<g clip-path="url(#pc95b3b33d3)">
<use xlink:href="#m725551b6c6" x="78.632182" y="127.633685" style="fill: #e377c2; fill-opacity: 0.8; stroke: #e377c2; stroke-opacity: 0.8"/>
<use xlink:href="#m725551b6c6" x="263.486727" y="207.473535" style="fill: #e377c2; fill-opacity: 0.8; stroke: #e377c2; stroke-opacity: 0.8"/>
<use xlink:href="#m725551b6c6" x="448.341273" y="198.979934" style="fill: #e377c2; fill-opacity: 0.8; stroke: #e377c2; stroke-opacity: 0.8"/>
<use xlink:href="#m725551b6c6" x="633.195818" y="248.6675" style="fill: #e377c2; fill-opacity: 0.8; stroke: #e377c2; stroke-opacity: 0.8"/>
</g>
</g>
<g id="line2d_36">
<path d="M 78.632182 248.24282
L 263.486727 273.935963
L 448.341273 139.949407
L 633.195818 212.994375
" clip-path="url(#pc95b3b33d3)" style="fill: none; stroke: #7f7f7f; stroke-opacity: 0.8; stroke-width: 2; stroke-linecap: square"/>
<g clip-path="url(#pc95b3b33d3)">
<use xlink:href="#ma17308275d" x="78.632182" y="248.24282" style="fill: #7f7f7f; fill-opacity: 0.8; stroke: #7f7f7f; stroke-opacity: 0.8"/>
<use xlink:href="#ma17308275d" x="263.486727" y="273.935963" style="fill: #7f7f7f; fill-opacity: 0.8; stroke: #7f7f7f; stroke-opacity: 0.8"/>
<use xlink:href="#ma17308275d" x="448.341273" y="139.949407" style="fill: #7f7f7f; fill-opacity: 0.8; stroke: #7f7f7f; stroke-opacity: 0.8"/>
<use xlink:href="#ma17308275d" x="633.195818" y="212.994375" style="fill: #7f7f7f; fill-opacity: 0.8; stroke: #7f7f7f; stroke-opacity: 0.8"/>
</g>
</g>
<g id="line2d_37">
<path d="M 78.632182 137.826006
L 263.486727 131.880486
L 448.341273 252.48962
L 633.195818 253.848596
" clip-path="url(#pc95b3b33d3)" style="fill: none; stroke: #bcbd22; stroke-opacity: 0.8; stroke-width: 2; stroke-linecap: square"/>
<g clip-path="url(#pc95b3b33d3)">
<use xlink:href="#mcc5aa6a2c8" x="78.632182" y="137.826006" style="fill: #bcbd22; fill-opacity: 0.8; stroke: #bcbd22; stroke-opacity: 0.8"/>
<use xlink:href="#mcc5aa6a2c8" x="263.486727" y="131.880486" style="fill: #bcbd22; fill-opacity: 0.8; stroke: #bcbd22; stroke-opacity: 0.8"/>
<use xlink:href="#mcc5aa6a2c8" x="448.341273" y="252.48962" style="fill: #bcbd22; fill-opacity: 0.8; stroke: #bcbd22; stroke-opacity: 0.8"/>
<use xlink:href="#mcc5aa6a2c8" x="633.195818" y="253.848596" style="fill: #bcbd22; fill-opacity: 0.8; stroke: #bcbd22; stroke-opacity: 0.8"/>
</g>
</g>
<g id="line2d_38">
<path d="M 78.632182 264.550534
L 263.486727 490.735129
L 448.341273 322.689233
L 633.195818 314.705248
" clip-path="url(#pc95b3b33d3)" style="fill: none; stroke: #17becf; stroke-opacity: 0.8; stroke-width: 2; stroke-linecap: square"/>
<g clip-path="url(#pc95b3b33d3)">
<use xlink:href="#m6e5e46f452" x="78.632182" y="264.550534" style="fill: #17becf; fill-opacity: 0.8; stroke: #17becf; stroke-opacity: 0.8"/>
<use xlink:href="#m6e5e46f452" x="263.486727" y="490.735129" style="fill: #17becf; fill-opacity: 0.8; stroke: #17becf; stroke-opacity: 0.8"/>
<use xlink:href="#m6e5e46f452" x="448.341273" y="322.689233" style="fill: #17becf; fill-opacity: 0.8; stroke: #17becf; stroke-opacity: 0.8"/>
<use xlink:href="#m6e5e46f452" x="633.195818" y="314.705248" style="fill: #17becf; fill-opacity: 0.8; stroke: #17becf; stroke-opacity: 0.8"/>
</g>
</g>
<g id="line2d_39">
<path d="M 78.632182 179.104907
L 263.486727 218.515216
L 448.341273 193.034413
L 633.195818 197.705894
" clip-path="url(#pc95b3b33d3)" style="fill: none; stroke: #1f77b4; stroke-opacity: 0.8; stroke-width: 2; stroke-linecap: square"/>
<g clip-path="url(#pc95b3b33d3)">
<use xlink:href="#m16b95cd49c" x="78.632182" y="179.104907" style="fill: #1f77b4; fill-opacity: 0.8; stroke: #1f77b4; stroke-opacity: 0.8"/>
<use xlink:href="#m16b95cd49c" x="263.486727" y="218.515216" style="fill: #1f77b4; fill-opacity: 0.8; stroke: #1f77b4; stroke-opacity: 0.8"/>
<use xlink:href="#m16b95cd49c" x="448.341273" y="193.034413" style="fill: #1f77b4; fill-opacity: 0.8; stroke: #1f77b4; stroke-opacity: 0.8"/>
<use xlink:href="#m16b95cd49c" x="633.195818" y="197.705894" style="fill: #1f77b4; fill-opacity: 0.8; stroke: #1f77b4; stroke-opacity: 0.8"/>
</g>
</g>
<g id="line2d_40">
<path d="M 78.632182 212.994375
L 263.486727 115.317964
L 448.341273 206.624175
L 633.195818 163.731489
" clip-path="url(#pc95b3b33d3)" style="fill: none; stroke: #ff7f0e; stroke-opacity: 0.8; stroke-width: 2; stroke-linecap: square"/>
<g clip-path="url(#pc95b3b33d3)">
<use xlink:href="#mc286945798" x="78.632182" y="212.994375" style="fill: #ff7f0e; fill-opacity: 0.8; stroke: #ff7f0e; stroke-opacity: 0.8"/>
<use xlink:href="#mc286945798" x="263.486727" y="115.317964" style="fill: #ff7f0e; fill-opacity: 0.8; stroke: #ff7f0e; stroke-opacity: 0.8"/>
<use xlink:href="#mc286945798" x="448.341273" y="206.624175" style="fill: #ff7f0e; fill-opacity: 0.8; stroke: #ff7f0e; stroke-opacity: 0.8"/>
<use xlink:href="#mc286945798" x="633.195818" y="163.731489" style="fill: #ff7f0e; fill-opacity: 0.8; stroke: #ff7f0e; stroke-opacity: 0.8"/>
</g>
</g>
<g id="line2d_41">
<path d="M 78.632182 112.345203
L 263.486727 269.476822
L 448.341273 275.422343
L 633.195818 280.518504
" clip-path="url(#pc95b3b33d3)" style="fill: none; stroke: #2ca02c; stroke-opacity: 0.8; stroke-width: 2; stroke-linecap: square"/>
<g clip-path="url(#pc95b3b33d3)">
<use xlink:href="#ma26eeebb79" x="78.632182" y="112.345203" style="fill: #2ca02c; fill-opacity: 0.8; stroke: #2ca02c; stroke-opacity: 0.8"/>
<use xlink:href="#ma26eeebb79" x="263.486727" y="269.476822" style="fill: #2ca02c; fill-opacity: 0.8; stroke: #2ca02c; stroke-opacity: 0.8"/>
<use xlink:href="#ma26eeebb79" x="448.341273" y="275.422343" style="fill: #2ca02c; fill-opacity: 0.8; stroke: #2ca02c; stroke-opacity: 0.8"/>
<use xlink:href="#ma26eeebb79" x="633.195818" y="280.518504" style="fill: #2ca02c; fill-opacity: 0.8; stroke: #2ca02c; stroke-opacity: 0.8"/>
</g>
</g>
<g id="line2d_42">
<path d="M 78.632182 277.375871
L 263.486727 185.390172
L 448.341273 320.778172
L 633.195818 352.416836
" clip-path="url(#pc95b3b33d3)" style="fill: none; stroke: #d62728; stroke-opacity: 0.8; stroke-width: 2; stroke-linecap: square"/>
<g clip-path="url(#pc95b3b33d3)">
<use xlink:href="#m9cf5913db1" x="78.632182" y="277.375871" style="fill: #d62728; fill-opacity: 0.8; stroke: #d62728; stroke-opacity: 0.8"/>
<use xlink:href="#m9cf5913db1" x="263.486727" y="185.390172" style="fill: #d62728; fill-opacity: 0.8; stroke: #d62728; stroke-opacity: 0.8"/>
<use xlink:href="#m9cf5913db1" x="448.341273" y="320.778172" style="fill: #d62728; fill-opacity: 0.8; stroke: #d62728; stroke-opacity: 0.8"/>
<use xlink:href="#m9cf5913db1" x="633.195818" y="352.416836" style="fill: #d62728; fill-opacity: 0.8; stroke: #d62728; stroke-opacity: 0.8"/>
</g>
</g>
<g id="line2d_43">
<path d="M 78.632182 204.500774
L 263.486727 203.226734
L 448.341273 176.896571
L 633.195818 166.874122
" clip-path="url(#pc95b3b33d3)" style="fill: none; stroke: #9467bd; stroke-opacity: 0.8; stroke-width: 2; stroke-linecap: square"/>
<g clip-path="url(#pc95b3b33d3)">
<use xlink:href="#m5d28bd0f11" x="78.632182" y="204.500774" style="fill: #9467bd; fill-opacity: 0.8; stroke: #9467bd; stroke-opacity: 0.8"/>
<use xlink:href="#m5d28bd0f11" x="263.486727" y="203.226734" style="fill: #9467bd; fill-opacity: 0.8; stroke: #9467bd; stroke-opacity: 0.8"/>
<use xlink:href="#m5d28bd0f11" x="448.341273" y="176.896571" style="fill: #9467bd; fill-opacity: 0.8; stroke: #9467bd; stroke-opacity: 0.8"/>
<use xlink:href="#m5d28bd0f11" x="633.195818" y="166.874122" style="fill: #9467bd; fill-opacity: 0.8; stroke: #9467bd; stroke-opacity: 0.8"/>
</g>
</g>
<g id="line2d_44">
<path d="M 78.632182 243.571339
L 263.486727 184.965492
L 448.341273 67.456522
L 633.195818 126.784325
" clip-path="url(#pc95b3b33d3)" style="fill: none; stroke: #8c564b; stroke-opacity: 0.8; stroke-width: 2; stroke-linecap: square"/>
<g clip-path="url(#pc95b3b33d3)">
<use xlink:href="#m76d8d4e232" x="78.632182" y="243.571339" style="fill: #8c564b; fill-opacity: 0.8; stroke: #8c564b; stroke-opacity: 0.8"/>
<use xlink:href="#m76d8d4e232" x="263.486727" y="184.965492" style="fill: #8c564b; fill-opacity: 0.8; stroke: #8c564b; stroke-opacity: 0.8"/>
<use xlink:href="#m76d8d4e232" x="448.341273" y="67.456522" style="fill: #8c564b; fill-opacity: 0.8; stroke: #8c564b; stroke-opacity: 0.8"/>
<use xlink:href="#m76d8d4e232" x="633.195818" y="126.784325" style="fill: #8c564b; fill-opacity: 0.8; stroke: #8c564b; stroke-opacity: 0.8"/>
</g>
</g>
<g id="line2d_45">
<path d="M 78.632182 227.008817
L 263.486727 227.433497
L 448.341273 88.56312
L 633.195818 243.146659
" clip-path="url(#pc95b3b33d3)" style="fill: none; stroke: #e377c2; stroke-opacity: 0.8; stroke-width: 2; stroke-linecap: square"/>
<g clip-path="url(#pc95b3b33d3)">
<use xlink:href="#m725551b6c6" x="78.632182" y="227.008817" style="fill: #e377c2; fill-opacity: 0.8; stroke: #e377c2; stroke-opacity: 0.8"/>
<use xlink:href="#m725551b6c6" x="263.486727" y="227.433497" style="fill: #e377c2; fill-opacity: 0.8; stroke: #e377c2; stroke-opacity: 0.8"/>
<use xlink:href="#m725551b6c6" x="448.341273" y="88.56312" style="fill: #e377c2; fill-opacity: 0.8; stroke: #e377c2; stroke-opacity: 0.8"/>
<use xlink:href="#m725551b6c6" x="633.195818" y="243.146659" style="fill: #e377c2; fill-opacity: 0.8; stroke: #e377c2; stroke-opacity: 0.8"/>
</g>
</g>
<g id="line2d_46">
<path d="M 78.632182 432.978642
L 263.486727 420.662921
L 448.341273 334.87755
L 633.195818 274.827791
" clip-path="url(#pc95b3b33d3)" style="fill: none; stroke: #7f7f7f; stroke-opacity: 0.8; stroke-width: 2; stroke-linecap: square"/>
<g clip-path="url(#pc95b3b33d3)">
<use xlink:href="#ma17308275d" x="78.632182" y="432.978642" style="fill: #7f7f7f; fill-opacity: 0.8; stroke: #7f7f7f; stroke-opacity: 0.8"/>
<use xlink:href="#ma17308275d" x="263.486727" y="420.662921" style="fill: #7f7f7f; fill-opacity: 0.8; stroke: #7f7f7f; stroke-opacity: 0.8"/>
<use xlink:href="#ma17308275d" x="448.341273" y="334.87755" style="fill: #7f7f7f; fill-opacity: 0.8; stroke: #7f7f7f; stroke-opacity: 0.8"/>
<use xlink:href="#ma17308275d" x="633.195818" y="274.827791" style="fill: #7f7f7f; fill-opacity: 0.8; stroke: #7f7f7f; stroke-opacity: 0.8"/>
</g>
</g>
<g id="line2d_47">
<path d="M 78.632182 203.863754
L 263.486727 132.305166
L 448.341273 267.565762
L 633.195818 224.460737
" clip-path="url(#pc95b3b33d3)" style="fill: none; stroke: #bcbd22; stroke-opacity: 0.8; stroke-width: 2; stroke-linecap: square"/>
<g clip-path="url(#pc95b3b33d3)">
<use xlink:href="#mcc5aa6a2c8" x="78.632182" y="203.863754" style="fill: #bcbd22; fill-opacity: 0.8; stroke: #bcbd22; stroke-opacity: 0.8"/>
<use xlink:href="#mcc5aa6a2c8" x="263.486727" y="132.305166" style="fill: #bcbd22; fill-opacity: 0.8; stroke: #bcbd22; stroke-opacity: 0.8"/>
<use xlink:href="#mcc5aa6a2c8" x="448.341273" y="267.565762" style="fill: #bcbd22; fill-opacity: 0.8; stroke: #bcbd22; stroke-opacity: 0.8"/>
<use xlink:href="#mcc5aa6a2c8" x="633.195818" y="224.460737" style="fill: #bcbd22; fill-opacity: 0.8; stroke: #bcbd22; stroke-opacity: 0.8"/>
</g>
</g>
<g id="line2d_48">
<path d="M 78.632182 212.994375
L 263.486727 154.176188
L 448.341273 170.73871
L 633.195818 190.486333
" clip-path="url(#pc95b3b33d3)" style="fill: none; stroke: #17becf; stroke-opacity: 0.8; stroke-width: 2; stroke-linecap: square"/>
<g clip-path="url(#pc95b3b33d3)">
<use xlink:href="#m6e5e46f452" x="78.632182" y="212.994375" style="fill: #17becf; fill-opacity: 0.8; stroke: #17becf; stroke-opacity: 0.8"/>
<use xlink:href="#m6e5e46f452" x="263.486727" y="154.176188" style="fill: #17becf; fill-opacity: 0.8; stroke: #17becf; stroke-opacity: 0.8"/>
<use xlink:href="#m6e5e46f452" x="448.341273" y="170.73871" style="fill: #17becf; fill-opacity: 0.8; stroke: #17becf; stroke-opacity: 0.8"/>
<use xlink:href="#m6e5e46f452" x="633.195818" y="190.486333" style="fill: #17becf; fill-opacity: 0.8; stroke: #17becf; stroke-opacity: 0.8"/>
</g>
</g>
<g id="line2d_49">
<path d="M 78.632182 206.199495
L 263.486727 211.507995
L 448.341273 204.500774
L 633.195818 108.947763
" clip-path="url(#pc95b3b33d3)" style="fill: none; stroke: #1f77b4; stroke-opacity: 0.8; stroke-width: 2; stroke-linecap: square"/>
<g clip-path="url(#pc95b3b33d3)">
<use xlink:href="#m16b95cd49c" x="78.632182" y="206.199495" style="fill: #1f77b4; fill-opacity: 0.8; stroke: #1f77b4; stroke-opacity: 0.8"/>
<use xlink:href="#m16b95cd49c" x="263.486727" y="211.507995" style="fill: #1f77b4; fill-opacity: 0.8; stroke: #1f77b4; stroke-opacity: 0.8"/>
<use xlink:href="#m16b95cd49c" x="448.341273" y="204.500774" style="fill: #1f77b4; fill-opacity: 0.8; stroke: #1f77b4; stroke-opacity: 0.8"/>
<use xlink:href="#m16b95cd49c" x="633.195818" y="108.947763" style="fill: #1f77b4; fill-opacity: 0.8; stroke: #1f77b4; stroke-opacity: 0.8"/>
</g>
</g>
<g id="line2d_50">
<path d="M 78.632182 259.709181
L 263.486727 271.600222
L 448.341273 262.681941
L 633.195818 108.268275
" clip-path="url(#pc95b3b33d3)" style="fill: none; stroke: #ff7f0e; stroke-opacity: 0.8; stroke-width: 2; stroke-linecap: square"/>
<g clip-path="url(#pc95b3b33d3)">
<use xlink:href="#mc286945798" x="78.632182" y="259.709181" style="fill: #ff7f0e; fill-opacity: 0.8; stroke: #ff7f0e; stroke-opacity: 0.8"/>
<use xlink:href="#mc286945798" x="263.486727" y="271.600222" style="fill: #ff7f0e; fill-opacity: 0.8; stroke: #ff7f0e; stroke-opacity: 0.8"/>
<use xlink:href="#mc286945798" x="448.341273" y="262.681941" style="fill: #ff7f0e; fill-opacity: 0.8; stroke: #ff7f0e; stroke-opacity: 0.8"/>
<use xlink:href="#mc286945798" x="633.195818" y="108.268275" style="fill: #ff7f0e; fill-opacity: 0.8; stroke: #ff7f0e; stroke-opacity: 0.8"/>
</g>
</g>
<g id="line2d_51">
<path d="M 78.632182 232.954338
L 263.486727 193.671433
L 448.341273 283.78854
L 633.195818 128.483045
" clip-path="url(#pc95b3b33d3)" style="fill: none; stroke: #2ca02c; stroke-opacity: 0.8; stroke-width: 2; stroke-linecap: square"/>
<g clip-path="url(#pc95b3b33d3)">
<use xlink:href="#ma26eeebb79" x="78.632182" y="232.954338" style="fill: #2ca02c; fill-opacity: 0.8; stroke: #2ca02c; stroke-opacity: 0.8"/>
<use xlink:href="#ma26eeebb79" x="263.486727" y="193.671433" style="fill: #2ca02c; fill-opacity: 0.8; stroke: #2ca02c; stroke-opacity: 0.8"/>
<use xlink:href="#ma26eeebb79" x="448.341273" y="283.78854" style="fill: #2ca02c; fill-opacity: 0.8; stroke: #2ca02c; stroke-opacity: 0.8"/>
<use xlink:href="#ma26eeebb79" x="633.195818" y="128.483045" style="fill: #2ca02c; fill-opacity: 0.8; stroke: #2ca02c; stroke-opacity: 0.8"/>
</g>
</g>
<g id="line2d_52">
<path d="M 78.632182 174.985511
L 263.486727 220.638616
L 448.341273 236.776458
L 633.195818 197.281213
" clip-path="url(#pc95b3b33d3)" style="fill: none; stroke: #d62728; stroke-opacity: 0.8; stroke-width: 2; stroke-linecap: square"/>
<g clip-path="url(#pc95b3b33d3)">
<use xlink:href="#m9cf5913db1" x="78.632182" y="174.985511" style="fill: #d62728; fill-opacity: 0.8; stroke: #d62728; stroke-opacity: 0.8"/>
<use xlink:href="#m9cf5913db1" x="263.486727" y="220.638616" style="fill: #d62728; fill-opacity: 0.8; stroke: #d62728; stroke-opacity: 0.8"/>
<use xlink:href="#m9cf5913db1" x="448.341273" y="236.776458" style="fill: #d62728; fill-opacity: 0.8; stroke: #d62728; stroke-opacity: 0.8"/>
<use xlink:href="#m9cf5913db1" x="633.195818" y="197.281213" style="fill: #d62728; fill-opacity: 0.8; stroke: #d62728; stroke-opacity: 0.8"/>
</g>
</g>
<g id="line2d_53">
<path d="M 78.632182 192.609733
L 263.486727 252.06494
L 448.341273 161.183409
L 633.195818 265.654702
" clip-path="url(#pc95b3b33d3)" style="fill: none; stroke: #9467bd; stroke-opacity: 0.8; stroke-width: 2; stroke-linecap: square"/>
<g clip-path="url(#pc95b3b33d3)">
<use xlink:href="#m5d28bd0f11" x="78.632182" y="192.609733" style="fill: #9467bd; fill-opacity: 0.8; stroke: #9467bd; stroke-opacity: 0.8"/>
<use xlink:href="#m5d28bd0f11" x="263.486727" y="252.06494" style="fill: #9467bd; fill-opacity: 0.8; stroke: #9467bd; stroke-opacity: 0.8"/>
<use xlink:href="#m5d28bd0f11" x="448.341273" y="161.183409" style="fill: #9467bd; fill-opacity: 0.8; stroke: #9467bd; stroke-opacity: 0.8"/>
<use xlink:href="#m5d28bd0f11" x="633.195818" y="265.654702" style="fill: #9467bd; fill-opacity: 0.8; stroke: #9467bd; stroke-opacity: 0.8"/>
</g>
</g>
<g id="line2d_54">
<path d="M 50.904 285.189984
L 660.924 285.189984
" clip-path="url(#pc95b3b33d3)" style="fill: none; stroke: #000000; stroke-opacity: 0.3; stroke-width: 0.5; stroke-linecap: square"/>
</g>
<g id="patch_3">
<path d="M 50.904 511.812
L 50.904 46.248
" style="fill: none; stroke: #000000; stroke-width: 0.8; stroke-linejoin: miter; stroke-linecap: square"/>
</g>
<g id="patch_4">
<path d="M 660.924 511.812
L 660.924 46.248
" style="fill: none; stroke: #000000; stroke-width: 0.8; stroke-linejoin: miter; stroke-linecap: square"/>
</g>
<g id="patch_5">
<path d="M 50.904 511.812
L 660.924 511.812
" style="fill: none; stroke: #000000; stroke-width: 0.8; stroke-linejoin: miter; stroke-linecap: square"/>
</g>
<g id="patch_6">
<path d="M 50.904 46.248
L 660.924 46.248
" style="fill: none; stroke: #000000; stroke-width: 0.8; stroke-linejoin: miter; stroke-linecap: square"/>
</g>
<g id="text_12">
<!-- Rank 35: Component Loadings Across Timepoints -->
<g transform="translate(174.608687 16.589281) scale(0.13 -0.13)">
<defs>
<path id="DejaVuSans-Bold-52" d="M 2297 2597
Q 2675 2597 2839 2737
Q 3003 2878 3003 3200
Q 3003 3519 2839 3656
Q 2675 3794 2297 3794
L 1791 3794
L 1791 2597
L 2297 2597
z
M 1791 1766
L 1791 0
L 588 0
L 588 4666
L 2425 4666
Q 3347 4666 3776 4356
Q 4206 4047 4206 3378
Q 4206 2916 3982 2619
Q 3759 2322 3309 2181
Q 3556 2125 3751 1926
Q 3947 1728 4147 1325
L 4800 0
L 3519 0
L 2950 1159
Q 2778 1509 2601 1637
Q 2425 1766 2131 1766
L 1791 1766
z
" transform="scale(0.015625)"/>
<path id="DejaVuSans-Bold-6b" d="M 538 4863
L 1656 4863
L 1656 2216
L 2944 3500
L 4244 3500
L 2534 1894
L 4378 0
L 3022 0
L 1656 1459
L 1656 0
L 538 0
L 538 4863
z
" transform="scale(0.015625)"/>
<path id="DejaVuSans-Bold-33" d="M 2981 2516
Q 3453 2394 3698 2092
Q 3944 1791 3944 1325
Q 3944 631 3412 270
Q 2881 -91 1863 -91
Q 1503 -91 1142 -33
Q 781 25 428 141
L 428 1069
Q 766 900 1098 814
Q 1431 728 1753 728
Q 2231 728 2486 893
Q 2741 1059 2741 1369
Q 2741 1688 2480 1852
Q 2219 2016 1709 2016
L 1228 2016
L 1228 2791
L 1734 2791
Q 2188 2791 2409 2933
Q 2631 3075 2631 3366
Q 2631 3634 2415 3781
Q 2200 3928 1806 3928
Q 1516 3928 1219 3862
Q 922 3797 628 3669
L 628 4550
Q 984 4650 1334 4700
Q 1684 4750 2022 4750
Q 2931 4750 3382 4451
Q 3834 4153 3834 3553
Q 3834 3144 3618 2883
Q 3403 2622 2981 2516
z
" transform="scale(0.015625)"/>
<path id="DejaVuSans-Bold-35" d="M 678 4666
L 3669 4666
L 3669 3781
L 1638 3781
L 1638 3059
Q 1775 3097 1914 3117
Q 2053 3138 2203 3138
Q 3056 3138 3531 2711
Q 4006 2284 4006 1522
Q 4006 766 3489 337
Q 2972 -91 2053 -91
Q 1656 -91 1267 -14
Q 878 63 494 219
L 494 1166
Q 875 947 1217 837
Q 1559 728 1863 728
Q 2300 728 2551 942
Q 2803 1156 2803 1522
Q 2803 1891 2551 2103
Q 2300 2316 1863 2316
Q 1603 2316 1309 2248
Q 1016 2181 678 2041
L 678 4666
z
" transform="scale(0.015625)"/>
<path id="DejaVuSans-Bold-3a" d="M 716 3500
L 1844 3500
L 1844 2291
L 716 2291
L 716 3500
z
M 716 1209
L 1844 1209
L 1844 0
L 716 0
L 716 1209
z
" transform="scale(0.015625)"/>
<path id="DejaVuSans-Bold-73" d="M 3272 3391
L 3272 2541
Q 2913 2691 2578 2766
Q 2244 2841 1947 2841
Q 1628 2841 1473 2761
Q 1319 2681 1319 2516
Q 1319 2381 1436 2309
Q 1553 2238 1856 2203
L 2053 2175
Q 2913 2066 3209 1816
Q 3506 1566 3506 1031
Q 3506 472 3093 190
Q 2681 -91 1863 -91
Q 1516 -91 1145 -36
Q 775 19 384 128
L 384 978
Q 719 816 1070 734
Q 1422 653 1784 653
Q 2113 653 2278 743
Q 2444 834 2444 1013
Q 2444 1163 2330 1236
Q 2216 1309 1875 1350
L 1678 1375
Q 931 1469 631 1722
Q 331 1975 331 2491
Q 331 3047 712 3315
Q 1094 3584 1881 3584
Q 2191 3584 2531 3537
Q 2872 3491 3272 3391
z
" transform="scale(0.015625)"/>
<path id="DejaVuSans-Bold-41" d="M 3419 850
L 1538 850
L 1241 0
L 31 0
L 1759 4666
L 3194 4666
L 4922 0
L 3713 0
L 3419 850
z
M 1838 1716
L 3116 1716
L 2478 3572
L 1838 1716
z
" transform="scale(0.015625)"/>
<path id="DejaVuSans-Bold-63" d="M 3366 3391
L 3366 2478
Q 3138 2634 2908 2709
Q 2678 2784 2431 2784
Q 1963 2784 1702 2511
Q 1441 2238 1441 1747
Q 1441 1256 1702 982
Q 1963 709 2431 709
Q 2694 709 2930 787
Q 3166 866 3366 1019
L 3366 103
Q 3103 6 2833 -42
Q 2563 -91 2291 -91
Q 1344 -91 809 395
Q 275 881 275 1747
Q 275 2613 809 3098
Q 1344 3584 2291 3584
Q 2566 3584 2833 3536
Q 3100 3488 3366 3391
z
" transform="scale(0.015625)"/>
<path id="DejaVuSans-Bold-72" d="M 3138 2547
Q 2991 2616 2845 2648
Q 2700 2681 2553 2681
Q 2122 2681 1889 2404
Q 1656 2128 1656 1613
L 1656 0
L 538 0
L 538 3500
L 1656 3500
L 1656 2925
Q 1872 3269 2151 3426
Q 2431 3584 2822 3584
Q 2878 3584 2943 3579
Q 3009 3575 3134 3559
L 3138 2547
z
" transform="scale(0.015625)"/>
</defs>
<use xlink:href="#DejaVuSans-Bold-52"/>
<use xlink:href="#DejaVuSans-Bold-61" transform="translate(77.001953 0)"/>
<use xlink:href="#DejaVuSans-Bold-6e" transform="translate(144.482422 0)"/>
<use xlink:href="#DejaVuSans-Bold-6b" transform="translate(215.673828 0)"/>
<use xlink:href="#DejaVuSans-Bold-20" transform="translate(282.177734 0)"/>
<use xlink:href="#DejaVuSans-Bold-33" transform="translate(316.992188 0)"/>
<use xlink:href="#DejaVuSans-Bold-35" transform="translate(386.572266 0)"/>
<use xlink:href="#DejaVuSans-Bold-3a" transform="translate(456.152344 0)"/>
<use xlink:href="#DejaVuSans-Bold-20" transform="translate(496.142578 0)"/>
<use xlink:href="#DejaVuSans-Bold-43" transform="translate(530.957031 0)"/>
<use xlink:href="#DejaVuSans-Bold-6f" transform="translate(604.345703 0)"/>
<use xlink:href="#DejaVuSans-Bold-6d" transform="translate(673.046875 0)"/>
<use xlink:href="#DejaVuSans-Bold-70" transform="translate(777.246094 0)"/>
<use xlink:href="#DejaVuSans-Bold-6f" transform="translate(848.828125 0)"/>
<use xlink:href="#DejaVuSans-Bold-6e" transform="translate(917.529297 0)"/>
<use xlink:href="#DejaVuSans-Bold-65" transform="translate(988.720703 0)"/>
<use xlink:href="#DejaVuSans-Bold-6e" transform="translate(1056.542969 0)"/>
<use xlink:href="#DejaVuSans-Bold-74" transform="translate(1127.734375 0)"/>
<use xlink:href="#DejaVuSans-Bold-20" transform="translate(1175.537109 0)"/>
<use xlink:href="#DejaVuSans-Bold-4c" transform="translate(1210.351562 0)"/>
<use xlink:href="#DejaVuSans-Bold-6f" transform="translate(1274.072266 0)"/>
<use xlink:href="#DejaVuSans-Bold-61" transform="translate(1342.773438 0)"/>
<use xlink:href="#DejaVuSans-Bold-64" transform="translate(1410.253906 0)"/>
<use xlink:href="#DejaVuSans-Bold-69" transform="translate(1481.835938 0)"/>
<use xlink:href="#DejaVuSans-Bold-6e" transform="translate(1516.113281 0)"/>
<use xlink:href="#DejaVuSans-Bold-67" transform="translate(1587.304688 0)"/>
<use xlink:href="#DejaVuSans-Bold-73" transform="translate(1658.886719 0)"/>
<use xlink:href="#DejaVuSans-Bold-20" transform="translate(1718.408203 0)"/>
<use xlink:href="#DejaVuSans-Bold-41" transform="translate(1753.222656 0)"/>
<use xlink:href="#DejaVuSans-Bold-63" transform="translate(1830.615234 0)"/>
<use xlink:href="#DejaVuSans-Bold-72" transform="translate(1889.892578 0)"/>
<use xlink:href="#DejaVuSans-Bold-6f" transform="translate(1939.208984 0)"/>
<use xlink:href="#DejaVuSans-Bold-73" transform="translate(2007.910156 0)"/>
<use xlink:href="#DejaVuSans-Bold-73" transform="translate(2067.431641 0)"/>
<use xlink:href="#DejaVuSans-Bold-20" transform="translate(2126.953125 0)"/>
<use xlink:href="#DejaVuSans-Bold-54" transform="translate(2161.767578 0)"/>
<use xlink:href="#DejaVuSans-Bold-69" transform="translate(2229.980469 0)"/>
<use xlink:href="#DejaVuSans-Bold-6d" transform="translate(2264.257812 0)"/>
<use xlink:href="#DejaVuSans-Bold-65" transform="translate(2368.457031 0)"/>
<use xlink:href="#DejaVuSans-Bold-70" transform="translate(2436.279297 0)"/>
<use xlink:href="#DejaVuSans-Bold-6f" transform="translate(2507.861328 0)"/>
<use xlink:href="#DejaVuSans-Bold-69" transform="translate(2576.5625 0)"/>
<use xlink:href="#DejaVuSans-Bold-6e" transform="translate(2610.839844 0)"/>
<use xlink:href="#DejaVuSans-Bold-74" transform="translate(2682.03125 0)"/>
<use xlink:href="#DejaVuSans-Bold-73" transform="translate(2729.833984 0)"/>
</g>
<!-- (Each line = one component, weighted by importance) -->
<g transform="translate(156.247203 31.248) scale(0.13 -0.13)">
<defs>
<path id="DejaVuSans-Bold-28" d="M 2413 -844
L 1484 -844
Q 1006 -72 778 623
Q 550 1319 550 2003
Q 550 2688 779 3389
Q 1009 4091 1484 4856
L 2413 4856
Q 2013 4116 1813 3408
Q 1613 2700 1613 2009
Q 1613 1319 1811 609
Q 2009 -100 2413 -844
z
" transform="scale(0.015625)"/>
<path id="DejaVuSans-Bold-45" d="M 588 4666
L 3834 4666
L 3834 3756
L 1791 3756
L 1791 2888
L 3713 2888
L 3713 1978
L 1791 1978
L 1791 909
L 3903 909
L 3903 0
L 588 0
L 588 4666
z
" transform="scale(0.015625)"/>
<path id="DejaVuSans-Bold-68" d="M 4056 2131
L 4056 0
L 2931 0
L 2931 347
L 2931 1625
Q 2931 2084 2911 2256
Q 2891 2428 2841 2509
Q 2775 2619 2662 2680
Q 2550 2741 2406 2741
Q 2056 2741 1856 2470
Q 1656 2200 1656 1722
L 1656 0
L 538 0
L 538 4863
L 1656 4863
L 1656 2988
Q 1909 3294 2193 3439
Q 2478 3584 2822 3584
Q 3428 3584 3742 3212
Q 4056 2841 4056 2131
z
" transform="scale(0.015625)"/>
<path id="DejaVuSans-Bold-6c" d="M 538 4863
L 1656 4863
L 1656 0
L 538 0
L 538 4863
z
" transform="scale(0.015625)"/>
<path id="DejaVuSans-Bold-3d" d="M 678 3084
L 4684 3084
L 4684 2350
L 678 2350
L 678 3084
z
M 678 1663
L 4684 1663
L 4684 922
L 678 922
L 678 1663
z
" transform="scale(0.015625)"/>
<path id="DejaVuSans-Bold-2c" d="M 653 1209
L 1778 1209
L 1778 256
L 1006 -909
L 341 -909
L 653 256
L 653 1209
z
" transform="scale(0.015625)"/>
<path id="DejaVuSans-Bold-77" d="M 225 3500
L 1313 3500
L 1900 1088
L 2491 3500
L 3425 3500
L 4013 1113
L 4603 3500
L 5691 3500
L 4769 0
L 3547 0
L 2956 2406
L 2369 0
L 1147 0
L 225 3500
z
" transform="scale(0.015625)"/>
<path id="DejaVuSans-Bold-62" d="M 2400 722
Q 2759 722 2948 984
Q 3138 1247 3138 1747
Q 3138 2247 2948 2509
Q 2759 2772 2400 2772
Q 2041 2772 1848 2508
Q 1656 2244 1656 1747
Q 1656 1250 1848 986
Q 2041 722 2400 722
z
M 1656 2988
Q 1888 3294 2169 3439
Q 2450 3584 2816 3584
Q 3463 3584 3878 3070
Q 4294 2556 4294 1747
Q 4294 938 3878 423
Q 3463 -91 2816 -91
Q 2450 -91 2169 54
Q 1888 200 1656 506
L 1656 0
L 538 0
L 538 4863
L 1656 4863
L 1656 2988
z
" transform="scale(0.015625)"/>
<path id="DejaVuSans-Bold-79" d="M 78 3500
L 1197 3500
L 2138 1125
L 2938 3500
L 4056 3500
L 2584 -331
Q 2363 -916 2067 -1148
Q 1772 -1381 1288 -1381
L 641 -1381
L 641 -647
L 991 -647
Q 1275 -647 1404 -556
Q 1534 -466 1606 -231
L 1638 -134
L 78 3500
z
" transform="scale(0.015625)"/>
<path id="DejaVuSans-Bold-29" d="M 513 -844
Q 913 -100 1113 609
Q 1313 1319 1313 2009
Q 1313 2700 1113 3408
Q 913 4116 513 4856
L 1441 4856
Q 1916 4091 2145 3389
Q 2375 2688 2375 2003
Q 2375 1319 2147 623
Q 1919 -72 1441 -844
L 513 -844
z
" transform="scale(0.015625)"/>
</defs>
<use xlink:href="#DejaVuSans-Bold-28"/>
<use xlink:href="#DejaVuSans-Bold-45" transform="translate(45.703125 0)"/>
<use xlink:href="#DejaVuSans-Bold-61" transform="translate(114.013672 0)"/>
<use xlink:href="#DejaVuSans-Bold-63" transform="translate(181.494141 0)"/>
<use xlink:href="#DejaVuSans-Bold-68" transform="translate(240.771484 0)"/>
<use xlink:href="#DejaVuSans-Bold-20" transform="translate(311.962891 0)"/>
<use xlink:href="#DejaVuSans-Bold-6c" transform="translate(346.777344 0)"/>
<use xlink:href="#DejaVuSans-Bold-69" transform="translate(381.054688 0)"/>
<use xlink:href="#DejaVuSans-Bold-6e" transform="translate(415.332031 0)"/>
<use xlink:href="#DejaVuSans-Bold-65" transform="translate(486.523438 0)"/>
<use xlink:href="#DejaVuSans-Bold-20" transform="translate(554.345703 0)"/>
<use xlink:href="#DejaVuSans-Bold-3d" transform="translate(589.160156 0)"/>
<use xlink:href="#DejaVuSans-Bold-20" transform="translate(672.949219 0)"/>
<use xlink:href="#DejaVuSans-Bold-6f" transform="translate(707.763672 0)"/>
<use xlink:href="#DejaVuSans-Bold-6e" transform="translate(776.464844 0)"/>
<use xlink:href="#DejaVuSans-Bold-65" transform="translate(847.65625 0)"/>
<use xlink:href="#DejaVuSans-Bold-20" transform="translate(915.478516 0)"/>
<use xlink:href="#DejaVuSans-Bold-63" transform="translate(950.292969 0)"/>
<use xlink:href="#DejaVuSans-Bold-6f" transform="translate(1009.570312 0)"/>
<use xlink:href="#DejaVuSans-Bold-6d" transform="translate(1078.271484 0)"/>
<use xlink:href="#DejaVuSans-Bold-70" transform="translate(1182.470703 0)"/>
<use xlink:href="#DejaVuSans-Bold-6f" transform="translate(1254.052734 0)"/>
<use xlink:href="#DejaVuSans-Bold-6e" transform="translate(1322.753906 0)"/>
<use xlink:href="#DejaVuSans-Bold-65" transform="translate(1393.945312 0)"/>
<use xlink:href="#DejaVuSans-Bold-6e" transform="translate(1461.767578 0)"/>
<use xlink:href="#DejaVuSans-Bold-74" transform="translate(1532.958984 0)"/>
<use xlink:href="#DejaVuSans-Bold-2c" transform="translate(1580.761719 0)"/>
<use xlink:href="#DejaVuSans-Bold-20" transform="translate(1618.75 0)"/>
<use xlink:href="#DejaVuSans-Bold-77" transform="translate(1653.564453 0)"/>
<use xlink:href="#DejaVuSans-Bold-65" transform="translate(1745.947266 0)"/>
<use xlink:href="#DejaVuSans-Bold-69" transform="translate(1813.769531 0)"/>
<use xlink:href="#DejaVuSans-Bold-67" transform="translate(1848.046875 0)"/>
<use xlink:href="#DejaVuSans-Bold-68" transform="translate(1919.628906 0)"/>
<use xlink:href="#DejaVuSans-Bold-74" transform="translate(1990.820312 0)"/>
<use xlink:href="#DejaVuSans-Bold-65" transform="translate(2038.623047 0)"/>
<use xlink:href="#DejaVuSans-Bold-64" transform="translate(2106.445312 0)"/>
<use xlink:href="#DejaVuSans-Bold-20" transform="translate(2178.027344 0)"/>
<use xlink:href="#DejaVuSans-Bold-62" transform="translate(2212.841797 0)"/>
<use xlink:href="#DejaVuSans-Bold-79" transform="translate(2284.423828 0)"/>
<use xlink:href="#DejaVuSans-Bold-20" transform="translate(2349.609375 0)"/>
<use xlink:href="#DejaVuSans-Bold-69" transform="translate(2384.423828 0)"/>
<use xlink:href="#DejaVuSans-Bold-6d" transform="translate(2418.701172 0)"/>
<use xlink:href="#DejaVuSans-Bold-70" transform="translate(2522.900391 0)"/>
<use xlink:href="#DejaVuSans-Bold-6f" transform="translate(2594.482422 0)"/>
<use xlink:href="#DejaVuSans-Bold-72" transform="translate(2663.183594 0)"/>
<use xlink:href="#DejaVuSans-Bold-74" transform="translate(2712.5 0)"/>
<use xlink:href="#DejaVuSans-Bold-61" transform="translate(2760.302734 0)"/>
<use xlink:href="#DejaVuSans-Bold-6e" transform="translate(2827.783203 0)"/>
<use xlink:href="#DejaVuSans-Bold-63" transform="translate(2898.974609 0)"/>
<use xlink:href="#DejaVuSans-Bold-65" transform="translate(2958.251953 0)"/>
<use xlink:href="#DejaVuSans-Bold-29" transform="translate(3026.074219 0)"/>
</g>
</g>
</g>
<g id="patch_7">
<path d="M 697.725 546.588
L 845.145 546.588
Q 846.945 546.588 846.945 544.788
L 846.945 52.188
Q 846.945 50.388 845.145 50.388
L 697.725 50.388
Q 695.925 50.388 695.925 52.188
L 695.925 544.788
Q 695.925 546.588 697.725 546.588
z
" style="fill: #ffffff; fill-opacity: 0.8; stroke: #cccccc; stroke-opacity: 0.8; stroke-linejoin: miter"/>
</g>
<g id="line2d_55">
<path d="M 699.525 58.038
L 717.525 58.038
" style="fill: none; stroke: #1f77b4; stroke-opacity: 0.8; stroke-width: 2; stroke-linecap: square"/>
</g>
<g id="line2d_56">
<g>
<use xlink:href="#m16b95cd49c" x="708.525" y="58.038" style="fill: #1f77b4; fill-opacity: 0.8; stroke: #1f77b4; stroke-opacity: 0.8"/>
</g>
</g>
<g id="line2d_57">
<path d="M 699.525 72.138
L 717.525 72.138
" style="fill: none; stroke: #ff7f0e; stroke-opacity: 0.8; stroke-width: 2; stroke-linecap: square"/>
</g>
<g id="line2d_58">
<g>
<use xlink:href="#mc286945798" x="708.525" y="72.138" style="fill: #ff7f0e; fill-opacity: 0.8; stroke: #ff7f0e; stroke-opacity: 0.8"/>
</g>
</g>
<g id="line2d_59">
<path d="M 699.525 86.238
L 717.525 86.238
" style="fill: none; stroke: #2ca02c; stroke-opacity: 0.8; stroke-width: 2; stroke-linecap: square"/>
</g>
<g id="line2d_60">
<g>
<use xlink:href="#ma26eeebb79" x="708.525" y="86.238" style="fill: #2ca02c; fill-opacity: 0.8; stroke: #2ca02c; stroke-opacity: 0.8"/>
</g>
</g>
<g id="line2d_61">
<path d="M 699.525 100.338
L 717.525 100.338
" style="fill: none; stroke: #d62728; stroke-opacity: 0.8; stroke-width: 2; stroke-linecap: square"/>
</g>
<g id="line2d_62">
<g>
<use xlink:href="#m9cf5913db1" x="708.525" y="100.338" style="fill: #d62728; fill-opacity: 0.8; stroke: #d62728; stroke-opacity: 0.8"/>
</g>
</g>
<g id="line2d_63">
<path d="M 699.525 114.438
L 717.525 114.438
" style="fill: none; stroke: #9467bd; stroke-opacity: 0.8; stroke-width: 2; stroke-linecap: square"/>
</g>
<g id="line2d_64">
<g>
<use xlink:href="#m5d28bd0f11" x="708.525" y="114.438" style="fill: #9467bd; fill-opacity: 0.8; stroke: #9467bd; stroke-opacity: 0.8"/>
</g>
</g>
<g id="line2d_65">
<path d="M 699.525 128.538
L 717.525 128.538
" style="fill: none; stroke: #8c564b; stroke-opacity: 0.8; stroke-width: 2; stroke-linecap: square"/>
</g>
<g id="line2d_66">
<g>
<use xlink:href="#m76d8d4e232" x="708.525" y="128.538" style="fill: #8c564b; fill-opacity: 0.8; stroke: #8c564b; stroke-opacity: 0.8"/>
</g>
</g>
<g id="line2d_67">
<path d="M 699.525 142.638
L 717.525 142.638
" style="fill: none; stroke: #e377c2; stroke-opacity: 0.8; stroke-width: 2; stroke-linecap: square"/>
</g>
<g id="line2d_68">
<g>
<use xlink:href="#m725551b6c6" x="708.525" y="142.638" style="fill: #e377c2; fill-opacity: 0.8; stroke: #e377c2; stroke-opacity: 0.8"/>
</g>
</g>
<g id="line2d_69">
<path d="M 699.525 156.738
L 717.525 156.738
" style="fill: none; stroke: #7f7f7f; stroke-opacity: 0.8; stroke-width: 2; stroke-linecap: square"/>
</g>
<g id="line2d_70">
<g>
<use xlink:href="#ma17308275d" x="708.525" y="156.738" style="fill: #7f7f7f; fill-opacity: 0.8; stroke: #7f7f7f; stroke-opacity: 0.8"/>
</g>
</g>
<g id="line2d_71">
<path d="M 699.525 170.838
L 717.525 170.838
" style="fill: none; stroke: #bcbd22; stroke-opacity: 0.8; stroke-width: 2; stroke-linecap: square"/>
</g>
<g id="line2d_72">
<g>
<use xlink:href="#mcc5aa6a2c8" x="708.525" y="170.838" style="fill: #bcbd22; fill-opacity: 0.8; stroke: #bcbd22; stroke-opacity: 0.8"/>
</g>
</g>
<g id="line2d_73">
<path d="M 699.525 184.938
L 717.525 184.938
" style="fill: none; stroke: #17becf; stroke-opacity: 0.8; stroke-width: 2; stroke-linecap: square"/>
</g>
<g id="line2d_74">
<g>
<use xlink:href="#m6e5e46f452" x="708.525" y="184.938" style="fill: #17becf; fill-opacity: 0.8; stroke: #17becf; stroke-opacity: 0.8"/>
</g>
</g>
<g id="line2d_75">
<path d="M 699.525 199.038
L 717.525 199.038
" style="fill: none; stroke: #1f77b4; stroke-opacity: 0.8; stroke-width: 2; stroke-linecap: square"/>
</g>
<g id="line2d_76">
<g>
<use xlink:href="#m16b95cd49c" x="708.525" y="199.038" style="fill: #1f77b4; fill-opacity: 0.8; stroke: #1f77b4; stroke-opacity: 0.8"/>
</g>
</g>
<g id="line2d_77">
<path d="M 699.525 213.138
L 717.525 213.138
" style="fill: none; stroke: #ff7f0e; stroke-opacity: 0.8; stroke-width: 2; stroke-linecap: square"/>
</g>
<g id="line2d_78">
<g>
<use xlink:href="#mc286945798" x="708.525" y="213.138" style="fill: #ff7f0e; fill-opacity: 0.8; stroke: #ff7f0e; stroke-opacity: 0.8"/>
</g>
</g>
<g id="line2d_79">
<path d="M 699.525 227.238
L 717.525 227.238
" style="fill: none; stroke: #2ca02c; stroke-opacity: 0.8; stroke-width: 2; stroke-linecap: square"/>
</g>
<g id="line2d_80">
<g>
<use xlink:href="#ma26eeebb79" x="708.525" y="227.238" style="fill: #2ca02c; fill-opacity: 0.8; stroke: #2ca02c; stroke-opacity: 0.8"/>
</g>
</g>
<g id="line2d_81">
<path d="M 699.525 241.338
L 717.525 241.338
" style="fill: none; stroke: #d62728; stroke-opacity: 0.8; stroke-width: 2; stroke-linecap: square"/>
</g>
<g id="line2d_82">
<g>
<use xlink:href="#m9cf5913db1" x="708.525" y="241.338" style="fill: #d62728; fill-opacity: 0.8; stroke: #d62728; stroke-opacity: 0.8"/>
</g>
</g>
<g id="line2d_83">
<path d="M 699.525 255.438
L 717.525 255.438
" style="fill: none; stroke: #9467bd; stroke-opacity: 0.8; stroke-width: 2; stroke-linecap: square"/>
</g>
<g id="line2d_84">
<g>
<use xlink:href="#m5d28bd0f11" x="708.525" y="255.438" style="fill: #9467bd; fill-opacity: 0.8; stroke: #9467bd; stroke-opacity: 0.8"/>
</g>
</g>
<g id="line2d_85">
<path d="M 699.525 269.538
L 717.525 269.538
" style="fill: none; stroke: #8c564b; stroke-opacity: 0.8; stroke-width: 2; stroke-linecap: square"/>
</g>
<g id="line2d_86">
<g>
<use xlink:href="#m76d8d4e232" x="708.525" y="269.538" style="fill: #8c564b; fill-opacity: 0.8; stroke: #8c564b; stroke-opacity: 0.8"/>
</g>
</g>
<g id="line2d_87">
<path d="M 699.525 283.638
L 717.525 283.638
" style="fill: none; stroke: #e377c2; stroke-opacity: 0.8; stroke-width: 2; stroke-linecap: square"/>
</g>
<g id="line2d_88">
<g>
<use xlink:href="#m725551b6c6" x="708.525" y="283.638" style="fill: #e377c2; fill-opacity: 0.8; stroke: #e377c2; stroke-opacity: 0.8"/>
</g>
</g>
<g id="line2d_89">
<path d="M 699.525 297.738
L 717.525 297.738
" style="fill: none; stroke: #7f7f7f; stroke-opacity: 0.8; stroke-width: 2; stroke-linecap: square"/>
</g>
<g id="line2d_90">
<g>
<use xlink:href="#ma17308275d" x="708.525" y="297.738" style="fill: #7f7f7f; fill-opacity: 0.8; stroke: #7f7f7f; stroke-opacity: 0.8"/>
</g>
</g>
<g id="line2d_91">
<path d="M 699.525 311.838
L 717.525 311.838
" style="fill: none; stroke: #bcbd22; stroke-opacity: 0.8; stroke-width: 2; stroke-linecap: square"/>
</g>
<g id="line2d_92">
<g>
<use xlink:href="#mcc5aa6a2c8" x="708.525" y="311.838" style="fill: #bcbd22; fill-opacity: 0.8; stroke: #bcbd22; stroke-opacity: 0.8"/>
</g>
</g>
<g id="line2d_93">
<path d="M 699.525 325.938
L 717.525 325.938
" style="fill: none; stroke: #17becf; stroke-opacity: 0.8; stroke-width: 2; stroke-linecap: square"/>
</g>
<g id="line2d_94">
<g>
<use xlink:href="#m6e5e46f452" x="708.525" y="325.938" style="fill: #17becf; fill-opacity: 0.8; stroke: #17becf; stroke-opacity: 0.8"/>
</g>
</g>
<g id="line2d_95">
<path d="M 699.525 340.038
L 717.525 340.038
" style="fill: none; stroke: #1f77b4; stroke-opacity: 0.8; stroke-width: 2; stroke-linecap: square"/>
</g>
<g id="line2d_96">
<g>
<use xlink:href="#m16b95cd49c" x="708.525" y="340.038" style="fill: #1f77b4; fill-opacity: 0.8; stroke: #1f77b4; stroke-opacity: 0.8"/>
</g>
</g>
<g id="line2d_97">
<path d="M 699.525 354.138
L 717.525 354.138
" style="fill: none; stroke: #ff7f0e; stroke-opacity: 0.8; stroke-width: 2; stroke-linecap: square"/>
</g>
<g id="line2d_98">
<g>
<use xlink:href="#mc286945798" x="708.525" y="354.138" style="fill: #ff7f0e; fill-opacity: 0.8; stroke: #ff7f0e; stroke-opacity: 0.8"/>
</g>
</g>
<g id="line2d_99">
<path d="M 699.525 368.238
L 717.525 368.238
" style="fill: none; stroke: #2ca02c; stroke-opacity: 0.8; stroke-width: 2; stroke-linecap: square"/>
</g>
<g id="line2d_100">
<g>
<use xlink:href="#ma26eeebb79" x="708.525" y="368.238" style="fill: #2ca02c; fill-opacity: 0.8; stroke: #2ca02c; stroke-opacity: 0.8"/>
</g>
</g>
<g id="line2d_101">
<path d="M 699.525 382.338
L 717.525 382.338
" style="fill: none; stroke: #d62728; stroke-opacity: 0.8; stroke-width: 2; stroke-linecap: square"/>
</g>
<g id="line2d_102">
<g>
<use xlink:href="#m9cf5913db1" x="708.525" y="382.338" style="fill: #d62728; fill-opacity: 0.8; stroke: #d62728; stroke-opacity: 0.8"/>
</g>
</g>
<g id="line2d_103">
<path d="M 699.525 396.438
L 717.525 396.438
" style="fill: none; stroke: #9467bd; stroke-opacity: 0.8; stroke-width: 2; stroke-linecap: square"/>
</g>
<g id="line2d_104">
<g>
<use xlink:href="#m5d28bd0f11" x="708.525" y="396.438" style="fill: #9467bd; fill-opacity: 0.8; stroke: #9467bd; stroke-opacity: 0.8"/>
</g>
</g>
<g id="line2d_105">
<path d="M 699.525 410.538
L 717.525 410.538
" style="fill: none; stroke: #8c564b; stroke-opacity: 0.8; stroke-width: 2; stroke-linecap: square"/>
</g>
<g id="line2d_106">
<g>
<use xlink:href="#m76d8d4e232" x="708.525" y="410.538" style="fill: #8c564b; fill-opacity: 0.8; stroke: #8c564b; stroke-opacity: 0.8"/>
</g>
</g>
<g id="line2d_107">
<path d="M 699.525 424.638
L 717.525 424.638
" style="fill: none; stroke: #e377c2; stroke-opacity: 0.8; stroke-width: 2; stroke-linecap: square"/>
</g>
<g id="line2d_108">
<g>
<use xlink:href="#m725551b6c6" x="708.525" y="424.638" style="fill: #e377c2; fill-opacity: 0.8; stroke: #e377c2; stroke-opacity: 0.8"/>
</g>
</g>
<g id="line2d_109">
<path d="M 699.525 438.738
L 717.525 438.738
" style="fill: none; stroke: #7f7f7f; stroke-opacity: 0.8; stroke-width: 2; stroke-linecap: square"/>
</g>
<g id="line2d_110">
<g>
<use xlink:href="#ma17308275d" x="708.525" y="438.738" style="fill: #7f7f7f; fill-opacity: 0.8; stroke: #7f7f7f; stroke-opacity: 0.8"/>
</g>
</g>
<g id="line2d_111">
<path d="M 699.525 452.838
L 717.525 452.838
" style="fill: none; stroke: #bcbd22; stroke-opacity: 0.8; stroke-width: 2; stroke-linecap: square"/>
</g>
<g id="line2d_112">
<g>
<use xlink:href="#mcc5aa6a2c8" x="708.525" y="452.838" style="fill: #bcbd22; fill-opacity: 0.8; stroke: #bcbd22; stroke-opacity: 0.8"/>
</g>
</g>
<g id="line2d_113">
<path d="M 699.525 466.938
L 717.525 466.938
" style="fill: none; stroke: #17becf; stroke-opacity: 0.8; stroke-width: 2; stroke-linecap: square"/>
</g>
<g id="line2d_114">
<g>
<use xlink:href="#m6e5e46f452" x="708.525" y="466.938" style="fill: #17becf; fill-opacity: 0.8; stroke: #17becf; stroke-opacity: 0.8"/>
</g>
</g>
<g id="line2d_115">
<path d="M 699.525 481.038
L 717.525 481.038
" style="fill: none; stroke: #1f77b4; stroke-opacity: 0.8; stroke-width: 2; stroke-linecap: square"/>
</g>
<g id="line2d_116">
<g>
<use xlink:href="#m16b95cd49c" x="708.525" y="481.038" style="fill: #1f77b4; fill-opacity: 0.8; stroke: #1f77b4; stroke-opacity: 0.8"/>
</g>
</g>
<g id="line2d_117">
<path d="M 699.525 495.138
L 717.525 495.138
" style="fill: none; stroke: #ff7f0e; stroke-opacity: 0.8; stroke-width: 2; stroke-linecap: square"/>
</g>
<g id="line2d_118">
<g>
<use xlink:href="#mc286945798" x="708.525" y="495.138" style="fill: #ff7f0e; fill-opacity: 0.8; stroke: #ff7f0e; stroke-opacity: 0.8"/>
</g>
</g>
<g id="line2d_119">
<path d="M 699.525 509.238
L 717.525 509.238
" style="fill: none; stroke: #2ca02c; stroke-opacity: 0.8; stroke-width: 2; stroke-linecap: square"/>
</g>
<g id="line2d_120">
<g>
<use xlink:href="#ma26eeebb79" x="708.525" y="509.238" style="fill: #2ca02c; fill-opacity: 0.8; stroke: #2ca02c; stroke-opacity: 0.8"/>
</g>
</g>
<g id="line2d_121">
<path d="M 699.525 523.338
L 717.525 523.338
" style="fill: none; stroke: #d62728; stroke-opacity: 0.8; stroke-width: 2; stroke-linecap: square"/>
</g>
<g id="line2d_122">
<g>
<use xlink:href="#m9cf5913db1" x="708.525" y="523.338" style="fill: #d62728; fill-opacity: 0.8; stroke: #d62728; stroke-opacity: 0.8"/>
</g>
</g>
<g id="line2d_123">
<path d="M 699.525 537.438
L 717.525 537.438
" style="fill: none; stroke: #9467bd; stroke-opacity: 0.8; stroke-width: 2; stroke-linecap: square"/>
</g>
<g id="line2d_124">
<g>
<use xlink:href="#m5d28bd0f11" x="708.525" y="537.438" style="fill: #9467bd; fill-opacity: 0.8; stroke: #9467bd; stroke-opacity: 0.8"/>
</g>
</g>
<g id="text_13">
<!-- Component_1 (w=1.000) -->
<g transform="translate(724.725 61.188) scale(0.09 -0.09)">
<defs>
<path id="DejaVuSans-43" d="M 4122 4306
L 4122 3641
Q 3803 3938 3442 4084
Q 3081 4231 2675 4231
Q 1875 4231 1450 3742
Q 1025 3253 1025 2328
Q 1025 1406 1450 917
Q 1875 428 2675 428
Q 3081 428 3442 575
Q 3803 722 4122 1019
L 4122 359
Q 3791 134 3420 21
Q 3050 -91 2638 -91
Q 1578 -91 968 557
Q 359 1206 359 2328
Q 359 3453 968 4101
Q 1578 4750 2638 4750
Q 3056 4750 3426 4639
Q 3797 4528 4122 4306
z
" transform="scale(0.015625)"/>
<path id="DejaVuSans-6f" d="M 1959 3097
Q 1497 3097 1228 2736
Q 959 2375 959 1747
Q 959 1119 1226 758
Q 1494 397 1959 397
Q 2419 397 2687 759
Q 2956 1122 2956 1747
Q 2956 2369 2687 2733
Q 2419 3097 1959 3097
z
M 1959 3584
Q 2709 3584 3137 3096
Q 3566 2609 3566 1747
Q 3566 888 3137 398
Q 2709 -91 1959 -91
Q 1206 -91 779 398
Q 353 888 353 1747
Q 353 2609 779 3096
Q 1206 3584 1959 3584
z
" transform="scale(0.015625)"/>
<path id="DejaVuSans-6d" d="M 3328 2828
Q 3544 3216 3844 3400
Q 4144 3584 4550 3584
Q 5097 3584 5394 3201
Q 5691 2819 5691 2113
L 5691 0
L 5113 0
L 5113 2094
Q 5113 2597 4934 2840
Q 4756 3084 4391 3084
Q 3944 3084 3684 2787
Q 3425 2491 3425 1978
L 3425 0
L 2847 0
L 2847 2094
Q 2847 2600 2669 2842
Q 2491 3084 2119 3084
Q 1678 3084 1418 2786
Q 1159 2488 1159 1978
L 1159 0
L 581 0
L 581 3500
L 1159 3500
L 1159 2956
Q 1356 3278 1631 3431
Q 1906 3584 2284 3584
Q 2666 3584 2933 3390
Q 3200 3197 3328 2828
z
" transform="scale(0.015625)"/>
<path id="DejaVuSans-70" d="M 1159 525
L 1159 -1331
L 581 -1331
L 581 3500
L 1159 3500
L 1159 2969
Q 1341 3281 1617 3432
Q 1894 3584 2278 3584
Q 2916 3584 3314 3078
Q 3713 2572 3713 1747
Q 3713 922 3314 415
Q 2916 -91 2278 -91
Q 1894 -91 1617 61
Q 1341 213 1159 525
z
M 3116 1747
Q 3116 2381 2855 2742
Q 2594 3103 2138 3103
Q 1681 3103 1420 2742
Q 1159 2381 1159 1747
Q 1159 1113 1420 752
Q 1681 391 2138 391
Q 2594 391 2855 752
Q 3116 1113 3116 1747
z
" transform="scale(0.015625)"/>
<path id="DejaVuSans-6e" d="M 3513 2113
L 3513 0
L 2938 0
L 2938 2094
Q 2938 2591 2744 2837
Q 2550 3084 2163 3084
Q 1697 3084 1428 2787
Q 1159 2491 1159 1978
L 1159 0
L 581 0
L 581 3500
L 1159 3500
L 1159 2956
Q 1366 3272 1645 3428
Q 1925 3584 2291 3584
Q 2894 3584 3203 3211
Q 3513 2838 3513 2113
z
" transform="scale(0.015625)"/>
<path id="DejaVuSans-65" d="M 3597 1894
L 3597 1613
L 953 1613
Q 991 1019 1311 708
Q 1631 397 2203 397
Q 2534 397 2845 478
Q 3156 559 3463 722
L 3463 178
Q 3153 47 2828 -22
Q 2503 -91 2169 -91
Q 1331 -91 842 396
Q 353 884 353 1716
Q 353 2575 817 3079
Q 1281 3584 2069 3584
Q 2775 3584 3186 3129
Q 3597 2675 3597 1894
z
M 3022 2063
Q 3016 2534 2758 2815
Q 2500 3097 2075 3097
Q 1594 3097 1305 2825
Q 1016 2553 972 2059
L 3022 2063
z
" transform="scale(0.015625)"/>
<path id="DejaVuSans-74" d="M 1172 4494
L 1172 3500
L 2356 3500
L 2356 3053
L 1172 3053
L 1172 1153
Q 1172 725 1289 603
Q 1406 481 1766 481
L 2356 481
L 2356 0
L 1766 0
Q 1100 0 847 248
Q 594 497 594 1153
L 594 3053
L 172 3053
L 172 3500
L 594 3500
L 594 4494
L 1172 4494
z
" transform="scale(0.015625)"/>
<path id="DejaVuSans-5f" d="M 3263 -1063
L 3263 -1509
L -63 -1509
L -63 -1063
L 3263 -1063
z
" transform="scale(0.015625)"/>
<path id="DejaVuSans-20" transform="scale(0.015625)"/>
<path id="DejaVuSans-28" d="M 1984 4856
Q 1566 4138 1362 3434
Q 1159 2731 1159 2009
Q 1159 1288 1364 580
Q 1569 -128 1984 -844
L 1484 -844
Q 1016 -109 783 600
Q 550 1309 550 2009
Q 550 2706 781 3412
Q 1013 4119 1484 4856
L 1984 4856
z
" transform="scale(0.015625)"/>
<path id="DejaVuSans-77" d="M 269 3500
L 844 3500
L 1563 769
L 2278 3500
L 2956 3500
L 3675 769
L 4391 3500
L 4966 3500
L 4050 0
L 3372 0
L 2619 2869
L 1863 0
L 1184 0
L 269 3500
z
" transform="scale(0.015625)"/>
<path id="DejaVuSans-3d" d="M 678 2906
L 4684 2906
L 4684 2381
L 678 2381
L 678 2906
z
M 678 1631
L 4684 1631
L 4684 1100
L 678 1100
L 678 1631
z
" transform="scale(0.015625)"/>
<path id="DejaVuSans-2e" d="M 684 794
L 1344 794
L 1344 0
L 684 0
L 684 794
z
" transform="scale(0.015625)"/>
<path id="DejaVuSans-29" d="M 513 4856
L 1013 4856
Q 1481 4119 1714 3412
Q 1947 2706 1947 2009
Q 1947 1309 1714 600
Q 1481 -109 1013 -844
L 513 -844
Q 928 -128 1133 580
Q 1338 1288 1338 2009
Q 1338 2731 1133 3434
Q 928 4138 513 4856
z
" transform="scale(0.015625)"/>
</defs>
<use xlink:href="#DejaVuSans-43"/>
<use xlink:href="#DejaVuSans-6f" transform="translate(69.824219 0)"/>
<use xlink:href="#DejaVuSans-6d" transform="translate(131.005859 0)"/>
<use xlink:href="#DejaVuSans-70" transform="translate(228.417969 0)"/>
<use xlink:href="#DejaVuSans-6f" transform="translate(291.894531 0)"/>
<use xlink:href="#DejaVuSans-6e" transform="translate(353.076172 0)"/>
<use xlink:href="#DejaVuSans-65" transform="translate(416.455078 0)"/>
<use xlink:href="#DejaVuSans-6e" transform="translate(477.978516 0)"/>
<use xlink:href="#DejaVuSans-74" transform="translate(541.357422 0)"/>
<use xlink:href="#DejaVuSans-5f" transform="translate(580.566406 0)"/>
<use xlink:href="#DejaVuSans-31" transform="translate(630.566406 0)"/>
<use xlink:href="#DejaVuSans-20" transform="translate(694.189453 0)"/>
<use xlink:href="#DejaVuSans-28" transform="translate(725.976562 0)"/>
<use xlink:href="#DejaVuSans-77" transform="translate(764.990234 0)"/>
<use xlink:href="#DejaVuSans-3d" transform="translate(846.777344 0)"/>
<use xlink:href="#DejaVuSans-31" transform="translate(930.566406 0)"/>
<use xlink:href="#DejaVuSans-2e" transform="translate(994.189453 0)"/>
<use xlink:href="#DejaVuSans-30" transform="translate(1025.976562 0)"/>
<use xlink:href="#DejaVuSans-30" transform="translate(1089.599609 0)"/>
<use xlink:href="#DejaVuSans-30" transform="translate(1153.222656 0)"/>
<use xlink:href="#DejaVuSans-29" transform="translate(1216.845703 0)"/>
</g>
</g>
<g id="text_14">
<!-- Component_2 (w=1.000) -->
<g transform="translate(724.725 75.288) scale(0.09 -0.09)">
<use xlink:href="#DejaVuSans-43"/>
<use xlink:href="#DejaVuSans-6f" transform="translate(69.824219 0)"/>
<use xlink:href="#DejaVuSans-6d" transform="translate(131.005859 0)"/>
<use xlink:href="#DejaVuSans-70" transform="translate(228.417969 0)"/>
<use xlink:href="#DejaVuSans-6f" transform="translate(291.894531 0)"/>
<use xlink:href="#DejaVuSans-6e" transform="translate(353.076172 0)"/>
<use xlink:href="#DejaVuSans-65" transform="translate(416.455078 0)"/>
<use xlink:href="#DejaVuSans-6e" transform="translate(477.978516 0)"/>
<use xlink:href="#DejaVuSans-74" transform="translate(541.357422 0)"/>
<use xlink:href="#DejaVuSans-5f" transform="translate(580.566406 0)"/>
<use xlink:href="#DejaVuSans-32" transform="translate(630.566406 0)"/>
<use xlink:href="#DejaVuSans-20" transform="translate(694.189453 0)"/>
<use xlink:href="#DejaVuSans-28" transform="translate(725.976562 0)"/>
<use xlink:href="#DejaVuSans-77" transform="translate(764.990234 0)"/>
<use xlink:href="#DejaVuSans-3d" transform="translate(846.777344 0)"/>
<use xlink:href="#DejaVuSans-31" transform="translate(930.566406 0)"/>
<use xlink:href="#DejaVuSans-2e" transform="translate(994.189453 0)"/>
<use xlink:href="#DejaVuSans-30" transform="translate(1025.976562 0)"/>
<use xlink:href="#DejaVuSans-30" transform="translate(1089.599609 0)"/>
<use xlink:href="#DejaVuSans-30" transform="translate(1153.222656 0)"/>
<use xlink:href="#DejaVuSans-29" transform="translate(1216.845703 0)"/>
</g>
</g>
<g id="text_15">
<!-- Component_3 (w=1.000) -->
<g transform="translate(724.725 89.388) scale(0.09 -0.09)">
<use xlink:href="#DejaVuSans-43"/>
<use xlink:href="#DejaVuSans-6f" transform="translate(69.824219 0)"/>
<use xlink:href="#DejaVuSans-6d" transform="translate(131.005859 0)"/>
<use xlink:href="#DejaVuSans-70" transform="translate(228.417969 0)"/>
<use xlink:href="#DejaVuSans-6f" transform="translate(291.894531 0)"/>
<use xlink:href="#DejaVuSans-6e" transform="translate(353.076172 0)"/>
<use xlink:href="#DejaVuSans-65" transform="translate(416.455078 0)"/>
<use xlink:href="#DejaVuSans-6e" transform="translate(477.978516 0)"/>
<use xlink:href="#DejaVuSans-74" transform="translate(541.357422 0)"/>
<use xlink:href="#DejaVuSans-5f" transform="translate(580.566406 0)"/>
<use xlink:href="#DejaVuSans-33" transform="translate(630.566406 0)"/>
<use xlink:href="#DejaVuSans-20" transform="translate(694.189453 0)"/>
<use xlink:href="#DejaVuSans-28" transform="translate(725.976562 0)"/>
<use xlink:href="#DejaVuSans-77" transform="translate(764.990234 0)"/>
<use xlink:href="#DejaVuSans-3d" transform="translate(846.777344 0)"/>
<use xlink:href="#DejaVuSans-31" transform="translate(930.566406 0)"/>
<use xlink:href="#DejaVuSans-2e" transform="translate(994.189453 0)"/>
<use xlink:href="#DejaVuSans-30" transform="translate(1025.976562 0)"/>
<use xlink:href="#DejaVuSans-30" transform="translate(1089.599609 0)"/>
<use xlink:href="#DejaVuSans-30" transform="translate(1153.222656 0)"/>
<use xlink:href="#DejaVuSans-29" transform="translate(1216.845703 0)"/>
</g>
</g>
<g id="text_16">
<!-- Component_4 (w=1.000) -->
<g transform="translate(724.725 103.488) scale(0.09 -0.09)">
<use xlink:href="#DejaVuSans-43"/>
<use xlink:href="#DejaVuSans-6f" transform="translate(69.824219 0)"/>
<use xlink:href="#DejaVuSans-6d" transform="translate(131.005859 0)"/>
<use xlink:href="#DejaVuSans-70" transform="translate(228.417969 0)"/>
<use xlink:href="#DejaVuSans-6f" transform="translate(291.894531 0)"/>
<use xlink:href="#DejaVuSans-6e" transform="translate(353.076172 0)"/>
<use xlink:href="#DejaVuSans-65" transform="translate(416.455078 0)"/>
<use xlink:href="#DejaVuSans-6e" transform="translate(477.978516 0)"/>
<use xlink:href="#DejaVuSans-74" transform="translate(541.357422 0)"/>
<use xlink:href="#DejaVuSans-5f" transform="translate(580.566406 0)"/>
<use xlink:href="#DejaVuSans-34" transform="translate(630.566406 0)"/>
<use xlink:href="#DejaVuSans-20" transform="translate(694.189453 0)"/>
<use xlink:href="#DejaVuSans-28" transform="translate(725.976562 0)"/>
<use xlink:href="#DejaVuSans-77" transform="translate(764.990234 0)"/>
<use xlink:href="#DejaVuSans-3d" transform="translate(846.777344 0)"/>
<use xlink:href="#DejaVuSans-31" transform="translate(930.566406 0)"/>
<use xlink:href="#DejaVuSans-2e" transform="translate(994.189453 0)"/>
<use xlink:href="#DejaVuSans-30" transform="translate(1025.976562 0)"/>
<use xlink:href="#DejaVuSans-30" transform="translate(1089.599609 0)"/>
<use xlink:href="#DejaVuSans-30" transform="translate(1153.222656 0)"/>
<use xlink:href="#DejaVuSans-29" transform="translate(1216.845703 0)"/>
</g>
</g>
<g id="text_17">
<!-- Component_5 (w=1.000) -->
<g transform="translate(724.725 117.588) scale(0.09 -0.09)">
<defs>
<path id="DejaVuSans-35" d="M 691 4666
L 3169 4666
L 3169 4134
L 1269 4134
L 1269 2991
Q 1406 3038 1543 3061
Q 1681 3084 1819 3084
Q 2600 3084 3056 2656
Q 3513 2228 3513 1497
Q 3513 744 3044 326
Q 2575 -91 1722 -91
Q 1428 -91 1123 -41
Q 819 9 494 109
L 494 744
Q 775 591 1075 516
Q 1375 441 1709 441
Q 2250 441 2565 725
Q 2881 1009 2881 1497
Q 2881 1984 2565 2268
Q 2250 2553 1709 2553
Q 1456 2553 1204 2497
Q 953 2441 691 2322
L 691 4666
z
" transform="scale(0.015625)"/>
</defs>
<use xlink:href="#DejaVuSans-43"/>
<use xlink:href="#DejaVuSans-6f" transform="translate(69.824219 0)"/>
<use xlink:href="#DejaVuSans-6d" transform="translate(131.005859 0)"/>
<use xlink:href="#DejaVuSans-70" transform="translate(228.417969 0)"/>
<use xlink:href="#DejaVuSans-6f" transform="translate(291.894531 0)"/>
<use xlink:href="#DejaVuSans-6e" transform="translate(353.076172 0)"/>
<use xlink:href="#DejaVuSans-65" transform="translate(416.455078 0)"/>
<use xlink:href="#DejaVuSans-6e" transform="translate(477.978516 0)"/>
<use xlink:href="#DejaVuSans-74" transform="translate(541.357422 0)"/>
<use xlink:href="#DejaVuSans-5f" transform="translate(580.566406 0)"/>
<use xlink:href="#DejaVuSans-35" transform="translate(630.566406 0)"/>
<use xlink:href="#DejaVuSans-20" transform="translate(694.189453 0)"/>
<use xlink:href="#DejaVuSans-28" transform="translate(725.976562 0)"/>
<use xlink:href="#DejaVuSans-77" transform="translate(764.990234 0)"/>
<use xlink:href="#DejaVuSans-3d" transform="translate(846.777344 0)"/>
<use xlink:href="#DejaVuSans-31" transform="translate(930.566406 0)"/>
<use xlink:href="#DejaVuSans-2e" transform="translate(994.189453 0)"/>
<use xlink:href="#DejaVuSans-30" transform="translate(1025.976562 0)"/>
<use xlink:href="#DejaVuSans-30" transform="translate(1089.599609 0)"/>
<use xlink:href="#DejaVuSans-30" transform="translate(1153.222656 0)"/>
<use xlink:href="#DejaVuSans-29" transform="translate(1216.845703 0)"/>
</g>
</g>
<g id="text_18">
<!-- Component_6 (w=1.000) -->
<g transform="translate(724.725 131.688) scale(0.09 -0.09)">
<defs>
<path id="DejaVuSans-36" d="M 2113 2584
Q 1688 2584 1439 2293
Q 1191 2003 1191 1497
Q 1191 994 1439 701
Q 1688 409 2113 409
Q 2538 409 2786 701
Q 3034 994 3034 1497
Q 3034 2003 2786 2293
Q 2538 2584 2113 2584
z
M 3366 4563
L 3366 3988
Q 3128 4100 2886 4159
Q 2644 4219 2406 4219
Q 1781 4219 1451 3797
Q 1122 3375 1075 2522
Q 1259 2794 1537 2939
Q 1816 3084 2150 3084
Q 2853 3084 3261 2657
Q 3669 2231 3669 1497
Q 3669 778 3244 343
Q 2819 -91 2113 -91
Q 1303 -91 875 529
Q 447 1150 447 2328
Q 447 3434 972 4092
Q 1497 4750 2381 4750
Q 2619 4750 2861 4703
Q 3103 4656 3366 4563
z
" transform="scale(0.015625)"/>
</defs>
<use xlink:href="#DejaVuSans-43"/>
<use xlink:href="#DejaVuSans-6f" transform="translate(69.824219 0)"/>
<use xlink:href="#DejaVuSans-6d" transform="translate(131.005859 0)"/>
<use xlink:href="#DejaVuSans-70" transform="translate(228.417969 0)"/>
<use xlink:href="#DejaVuSans-6f" transform="translate(291.894531 0)"/>
<use xlink:href="#DejaVuSans-6e" transform="translate(353.076172 0)"/>
<use xlink:href="#DejaVuSans-65" transform="translate(416.455078 0)"/>
<use xlink:href="#DejaVuSans-6e" transform="translate(477.978516 0)"/>
<use xlink:href="#DejaVuSans-74" transform="translate(541.357422 0)"/>
<use xlink:href="#DejaVuSans-5f" transform="translate(580.566406 0)"/>
<use xlink:href="#DejaVuSans-36" transform="translate(630.566406 0)"/>
<use xlink:href="#DejaVuSans-20" transform="translate(694.189453 0)"/>
<use xlink:href="#DejaVuSans-28" transform="translate(725.976562 0)"/>
<use xlink:href="#DejaVuSans-77" transform="translate(764.990234 0)"/>
<use xlink:href="#DejaVuSans-3d" transform="translate(846.777344 0)"/>
<use xlink:href="#DejaVuSans-31" transform="translate(930.566406 0)"/>
<use xlink:href="#DejaVuSans-2e" transform="translate(994.189453 0)"/>
<use xlink:href="#DejaVuSans-30" transform="translate(1025.976562 0)"/>
<use xlink:href="#DejaVuSans-30" transform="translate(1089.599609 0)"/>
<use xlink:href="#DejaVuSans-30" transform="translate(1153.222656 0)"/>
<use xlink:href="#DejaVuSans-29" transform="translate(1216.845703 0)"/>
</g>
</g>
<g id="text_19">
<!-- Component_7 (w=1.000) -->
<g transform="translate(724.725 145.788) scale(0.09 -0.09)">
<defs>
<path id="DejaVuSans-37" d="M 525 4666
L 3525 4666
L 3525 4397
L 1831 0
L 1172 0
L 2766 4134
L 525 4134
L 525 4666
z
" transform="scale(0.015625)"/>
</defs>
<use xlink:href="#DejaVuSans-43"/>
<use xlink:href="#DejaVuSans-6f" transform="translate(69.824219 0)"/>
<use xlink:href="#DejaVuSans-6d" transform="translate(131.005859 0)"/>
<use xlink:href="#DejaVuSans-70" transform="translate(228.417969 0)"/>
<use xlink:href="#DejaVuSans-6f" transform="translate(291.894531 0)"/>
<use xlink:href="#DejaVuSans-6e" transform="translate(353.076172 0)"/>
<use xlink:href="#DejaVuSans-65" transform="translate(416.455078 0)"/>
<use xlink:href="#DejaVuSans-6e" transform="translate(477.978516 0)"/>
<use xlink:href="#DejaVuSans-74" transform="translate(541.357422 0)"/>
<use xlink:href="#DejaVuSans-5f" transform="translate(580.566406 0)"/>
<use xlink:href="#DejaVuSans-37" transform="translate(630.566406 0)"/>
<use xlink:href="#DejaVuSans-20" transform="translate(694.189453 0)"/>
<use xlink:href="#DejaVuSans-28" transform="translate(725.976562 0)"/>
<use xlink:href="#DejaVuSans-77" transform="translate(764.990234 0)"/>
<use xlink:href="#DejaVuSans-3d" transform="translate(846.777344 0)"/>
<use xlink:href="#DejaVuSans-31" transform="translate(930.566406 0)"/>
<use xlink:href="#DejaVuSans-2e" transform="translate(994.189453 0)"/>
<use xlink:href="#DejaVuSans-30" transform="translate(1025.976562 0)"/>
<use xlink:href="#DejaVuSans-30" transform="translate(1089.599609 0)"/>
<use xlink:href="#DejaVuSans-30" transform="translate(1153.222656 0)"/>
<use xlink:href="#DejaVuSans-29" transform="translate(1216.845703 0)"/>
</g>
</g>
<g id="text_20">
<!-- Component_8 (w=1.000) -->
<g transform="translate(724.725 159.888) scale(0.09 -0.09)">
<defs>
<path id="DejaVuSans-38" d="M 2034 2216
Q 1584 2216 1326 1975
Q 1069 1734 1069 1313
Q 1069 891 1326 650
Q 1584 409 2034 409
Q 2484 409 2743 651
Q 3003 894 3003 1313
Q 3003 1734 2745 1975
Q 2488 2216 2034 2216
z
M 1403 2484
Q 997 2584 770 2862
Q 544 3141 544 3541
Q 544 4100 942 4425
Q 1341 4750 2034 4750
Q 2731 4750 3128 4425
Q 3525 4100 3525 3541
Q 3525 3141 3298 2862
Q 3072 2584 2669 2484
Q 3125 2378 3379 2068
Q 3634 1759 3634 1313
Q 3634 634 3220 271
Q 2806 -91 2034 -91
Q 1263 -91 848 271
Q 434 634 434 1313
Q 434 1759 690 2068
Q 947 2378 1403 2484
z
M 1172 3481
Q 1172 3119 1398 2916
Q 1625 2713 2034 2713
Q 2441 2713 2670 2916
Q 2900 3119 2900 3481
Q 2900 3844 2670 4047
Q 2441 4250 2034 4250
Q 1625 4250 1398 4047
Q 1172 3844 1172 3481
z
" transform="scale(0.015625)"/>
</defs>
<use xlink:href="#DejaVuSans-43"/>
<use xlink:href="#DejaVuSans-6f" transform="translate(69.824219 0)"/>
<use xlink:href="#DejaVuSans-6d" transform="translate(131.005859 0)"/>
<use xlink:href="#DejaVuSans-70" transform="translate(228.417969 0)"/>
<use xlink:href="#DejaVuSans-6f" transform="translate(291.894531 0)"/>
<use xlink:href="#DejaVuSans-6e" transform="translate(353.076172 0)"/>
<use xlink:href="#DejaVuSans-65" transform="translate(416.455078 0)"/>
<use xlink:href="#DejaVuSans-6e" transform="translate(477.978516 0)"/>
<use xlink:href="#DejaVuSans-74" transform="translate(541.357422 0)"/>
<use xlink:href="#DejaVuSans-5f" transform="translate(580.566406 0)"/>
<use xlink:href="#DejaVuSans-38" transform="translate(630.566406 0)"/>
<use xlink:href="#DejaVuSans-20" transform="translate(694.189453 0)"/>
<use xlink:href="#DejaVuSans-28" transform="translate(725.976562 0)"/>
<use xlink:href="#DejaVuSans-77" transform="translate(764.990234 0)"/>
<use xlink:href="#DejaVuSans-3d" transform="translate(846.777344 0)"/>
<use xlink:href="#DejaVuSans-31" transform="translate(930.566406 0)"/>
<use xlink:href="#DejaVuSans-2e" transform="translate(994.189453 0)"/>
<use xlink:href="#DejaVuSans-30" transform="translate(1025.976562 0)"/>
<use xlink:href="#DejaVuSans-30" transform="translate(1089.599609 0)"/>
<use xlink:href="#DejaVuSans-30" transform="translate(1153.222656 0)"/>
<use xlink:href="#DejaVuSans-29" transform="translate(1216.845703 0)"/>
</g>
</g>
<g id="text_21">
<!-- Component_9 (w=1.000) -->
<g transform="translate(724.725 173.988) scale(0.09 -0.09)">
<defs>
<path id="DejaVuSans-39" d="M 703 97
L 703 672
Q 941 559 1184 500
Q 1428 441 1663 441
Q 2288 441 2617 861
Q 2947 1281 2994 2138
Q 2813 1869 2534 1725
Q 2256 1581 1919 1581
Q 1219 1581 811 2004
Q 403 2428 403 3163
Q 403 3881 828 4315
Q 1253 4750 1959 4750
Q 2769 4750 3195 4129
Q 3622 3509 3622 2328
Q 3622 1225 3098 567
Q 2575 -91 1691 -91
Q 1453 -91 1209 -44
Q 966 3 703 97
z
M 1959 2075
Q 2384 2075 2632 2365
Q 2881 2656 2881 3163
Q 2881 3666 2632 3958
Q 2384 4250 1959 4250
Q 1534 4250 1286 3958
Q 1038 3666 1038 3163
Q 1038 2656 1286 2365
Q 1534 2075 1959 2075
z
" transform="scale(0.015625)"/>
</defs>
<use xlink:href="#DejaVuSans-43"/>
<use xlink:href="#DejaVuSans-6f" transform="translate(69.824219 0)"/>
<use xlink:href="#DejaVuSans-6d" transform="translate(131.005859 0)"/>
<use xlink:href="#DejaVuSans-70" transform="translate(228.417969 0)"/>
<use xlink:href="#DejaVuSans-6f" transform="translate(291.894531 0)"/>
<use xlink:href="#DejaVuSans-6e" transform="translate(353.076172 0)"/>
<use xlink:href="#DejaVuSans-65" transform="translate(416.455078 0)"/>
<use xlink:href="#DejaVuSans-6e" transform="translate(477.978516 0)"/>
<use xlink:href="#DejaVuSans-74" transform="translate(541.357422 0)"/>
<use xlink:href="#DejaVuSans-5f" transform="translate(580.566406 0)"/>
<use xlink:href="#DejaVuSans-39" transform="translate(630.566406 0)"/>
<use xlink:href="#DejaVuSans-20" transform="translate(694.189453 0)"/>
<use xlink:href="#DejaVuSans-28" transform="translate(725.976562 0)"/>
<use xlink:href="#DejaVuSans-77" transform="translate(764.990234 0)"/>
<use xlink:href="#DejaVuSans-3d" transform="translate(846.777344 0)"/>
<use xlink:href="#DejaVuSans-31" transform="translate(930.566406 0)"/>
<use xlink:href="#DejaVuSans-2e" transform="translate(994.189453 0)"/>
<use xlink:href="#DejaVuSans-30" transform="translate(1025.976562 0)"/>
<use xlink:href="#DejaVuSans-30" transform="translate(1089.599609 0)"/>
<use xlink:href="#DejaVuSans-30" transform="translate(1153.222656 0)"/>
<use xlink:href="#DejaVuSans-29" transform="translate(1216.845703 0)"/>
</g>
</g>
<g id="text_22">
<!-- Component_10 (w=1.000) -->
<g transform="translate(724.725 188.088) scale(0.09 -0.09)">
<use xlink:href="#DejaVuSans-43"/>
<use xlink:href="#DejaVuSans-6f" transform="translate(69.824219 0)"/>
<use xlink:href="#DejaVuSans-6d" transform="translate(131.005859 0)"/>
<use xlink:href="#DejaVuSans-70" transform="translate(228.417969 0)"/>
<use xlink:href="#DejaVuSans-6f" transform="translate(291.894531 0)"/>
<use xlink:href="#DejaVuSans-6e" transform="translate(353.076172 0)"/>
<use xlink:href="#DejaVuSans-65" transform="translate(416.455078 0)"/>
<use xlink:href="#DejaVuSans-6e" transform="translate(477.978516 0)"/>
<use xlink:href="#DejaVuSans-74" transform="translate(541.357422 0)"/>
<use xlink:href="#DejaVuSans-5f" transform="translate(580.566406 0)"/>
<use xlink:href="#DejaVuSans-31" transform="translate(630.566406 0)"/>
<use xlink:href="#DejaVuSans-30" transform="translate(694.189453 0)"/>
<use xlink:href="#DejaVuSans-20" transform="translate(757.8125 0)"/>
<use xlink:href="#DejaVuSans-28" transform="translate(789.599609 0)"/>
<use xlink:href="#DejaVuSans-77" transform="translate(828.613281 0)"/>
<use xlink:href="#DejaVuSans-3d" transform="translate(910.400391 0)"/>
<use xlink:href="#DejaVuSans-31" transform="translate(994.189453 0)"/>
<use xlink:href="#DejaVuSans-2e" transform="translate(1057.8125 0)"/>
<use xlink:href="#DejaVuSans-30" transform="translate(1089.599609 0)"/>
<use xlink:href="#DejaVuSans-30" transform="translate(1153.222656 0)"/>
<use xlink:href="#DejaVuSans-30" transform="translate(1216.845703 0)"/>
<use xlink:href="#DejaVuSans-29" transform="translate(1280.46875 0)"/>
</g>
</g>
<g id="text_23">
<!-- Component_11 (w=1.000) -->
<g transform="translate(724.725 202.188) scale(0.09 -0.09)">
<use xlink:href="#DejaVuSans-43"/>
<use xlink:href="#DejaVuSans-6f" transform="translate(69.824219 0)"/>
<use xlink:href="#DejaVuSans-6d" transform="translate(131.005859 0)"/>
<use xlink:href="#DejaVuSans-70" transform="translate(228.417969 0)"/>
<use xlink:href="#DejaVuSans-6f" transform="translate(291.894531 0)"/>
<use xlink:href="#DejaVuSans-6e" transform="translate(353.076172 0)"/>
<use xlink:href="#DejaVuSans-65" transform="translate(416.455078 0)"/>
<use xlink:href="#DejaVuSans-6e" transform="translate(477.978516 0)"/>
<use xlink:href="#DejaVuSans-74" transform="translate(541.357422 0)"/>
<use xlink:href="#DejaVuSans-5f" transform="translate(580.566406 0)"/>
<use xlink:href="#DejaVuSans-31" transform="translate(630.566406 0)"/>
<use xlink:href="#DejaVuSans-31" transform="translate(694.189453 0)"/>
<use xlink:href="#DejaVuSans-20" transform="translate(757.8125 0)"/>
<use xlink:href="#DejaVuSans-28" transform="translate(789.599609 0)"/>
<use xlink:href="#DejaVuSans-77" transform="translate(828.613281 0)"/>
<use xlink:href="#DejaVuSans-3d" transform="translate(910.400391 0)"/>
<use xlink:href="#DejaVuSans-31" transform="translate(994.189453 0)"/>
<use xlink:href="#DejaVuSans-2e" transform="translate(1057.8125 0)"/>
<use xlink:href="#DejaVuSans-30" transform="translate(1089.599609 0)"/>
<use xlink:href="#DejaVuSans-30" transform="translate(1153.222656 0)"/>
<use xlink:href="#DejaVuSans-30" transform="translate(1216.845703 0)"/>
<use xlink:href="#DejaVuSans-29" transform="translate(1280.46875 0)"/>
</g>
</g>
<g id="text_24">
<!-- Component_12 (w=1.000) -->
<g transform="translate(724.725 216.288) scale(0.09 -0.09)">
<use xlink:href="#DejaVuSans-43"/>
<use xlink:href="#DejaVuSans-6f" transform="translate(69.824219 0)"/>
<use xlink:href="#DejaVuSans-6d" transform="translate(131.005859 0)"/>
<use xlink:href="#DejaVuSans-70" transform="translate(228.417969 0)"/>
<use xlink:href="#DejaVuSans-6f" transform="translate(291.894531 0)"/>
<use xlink:href="#DejaVuSans-6e" transform="translate(353.076172 0)"/>
<use xlink:href="#DejaVuSans-65" transform="translate(416.455078 0)"/>
<use xlink:href="#DejaVuSans-6e" transform="translate(477.978516 0)"/>
<use xlink:href="#DejaVuSans-74" transform="translate(541.357422 0)"/>
<use xlink:href="#DejaVuSans-5f" transform="translate(580.566406 0)"/>
<use xlink:href="#DejaVuSans-31" transform="translate(630.566406 0)"/>
<use xlink:href="#DejaVuSans-32" transform="translate(694.189453 0)"/>
<use xlink:href="#DejaVuSans-20" transform="translate(757.8125 0)"/>
<use xlink:href="#DejaVuSans-28" transform="translate(789.599609 0)"/>
<use xlink:href="#DejaVuSans-77" transform="translate(828.613281 0)"/>
<use xlink:href="#DejaVuSans-3d" transform="translate(910.400391 0)"/>
<use xlink:href="#DejaVuSans-31" transform="translate(994.189453 0)"/>
<use xlink:href="#DejaVuSans-2e" transform="translate(1057.8125 0)"/>
<use xlink:href="#DejaVuSans-30" transform="translate(1089.599609 0)"/>
<use xlink:href="#DejaVuSans-30" transform="translate(1153.222656 0)"/>
<use xlink:href="#DejaVuSans-30" transform="translate(1216.845703 0)"/>
<use xlink:href="#DejaVuSans-29" transform="translate(1280.46875 0)"/>
</g>
</g>
<g id="text_25">
<!-- Component_13 (w=1.000) -->
<g transform="translate(724.725 230.388) scale(0.09 -0.09)">
<use xlink:href="#DejaVuSans-43"/>
<use xlink:href="#DejaVuSans-6f" transform="translate(69.824219 0)"/>
<use xlink:href="#DejaVuSans-6d" transform="translate(131.005859 0)"/>
<use xlink:href="#DejaVuSans-70" transform="translate(228.417969 0)"/>
<use xlink:href="#DejaVuSans-6f" transform="translate(291.894531 0)"/>
<use xlink:href="#DejaVuSans-6e" transform="translate(353.076172 0)"/>
<use xlink:href="#DejaVuSans-65" transform="translate(416.455078 0)"/>
<use xlink:href="#DejaVuSans-6e" transform="translate(477.978516 0)"/>
<use xlink:href="#DejaVuSans-74" transform="translate(541.357422 0)"/>
<use xlink:href="#DejaVuSans-5f" transform="translate(580.566406 0)"/>
<use xlink:href="#DejaVuSans-31" transform="translate(630.566406 0)"/>
<use xlink:href="#DejaVuSans-33" transform="translate(694.189453 0)"/>
<use xlink:href="#DejaVuSans-20" transform="translate(757.8125 0)"/>
<use xlink:href="#DejaVuSans-28" transform="translate(789.599609 0)"/>
<use xlink:href="#DejaVuSans-77" transform="translate(828.613281 0)"/>
<use xlink:href="#DejaVuSans-3d" transform="translate(910.400391 0)"/>
<use xlink:href="#DejaVuSans-31" transform="translate(994.189453 0)"/>
<use xlink:href="#DejaVuSans-2e" transform="translate(1057.8125 0)"/>
<use xlink:href="#DejaVuSans-30" transform="translate(1089.599609 0)"/>
<use xlink:href="#DejaVuSans-30" transform="translate(1153.222656 0)"/>
<use xlink:href="#DejaVuSans-30" transform="translate(1216.845703 0)"/>
<use xlink:href="#DejaVuSans-29" transform="translate(1280.46875 0)"/>
</g>
</g>
<g id="text_26">
<!-- Component_14 (w=1.000) -->
<g transform="translate(724.725 244.488) scale(0.09 -0.09)">
<use xlink:href="#DejaVuSans-43"/>
<use xlink:href="#DejaVuSans-6f" transform="translate(69.824219 0)"/>
<use xlink:href="#DejaVuSans-6d" transform="translate(131.005859 0)"/>
<use xlink:href="#DejaVuSans-70" transform="translate(228.417969 0)"/>
<use xlink:href="#DejaVuSans-6f" transform="translate(291.894531 0)"/>
<use xlink:href="#DejaVuSans-6e" transform="translate(353.076172 0)"/>
<use xlink:href="#DejaVuSans-65" transform="translate(416.455078 0)"/>
<use xlink:href="#DejaVuSans-6e" transform="translate(477.978516 0)"/>
<use xlink:href="#DejaVuSans-74" transform="translate(541.357422 0)"/>
<use xlink:href="#DejaVuSans-5f" transform="translate(580.566406 0)"/>
<use xlink:href="#DejaVuSans-31" transform="translate(630.566406 0)"/>
<use xlink:href="#DejaVuSans-34" transform="translate(694.189453 0)"/>
<use xlink:href="#DejaVuSans-20" transform="translate(757.8125 0)"/>
<use xlink:href="#DejaVuSans-28" transform="translate(789.599609 0)"/>
<use xlink:href="#DejaVuSans-77" transform="translate(828.613281 0)"/>
<use xlink:href="#DejaVuSans-3d" transform="translate(910.400391 0)"/>
<use xlink:href="#DejaVuSans-31" transform="translate(994.189453 0)"/>
<use xlink:href="#DejaVuSans-2e" transform="translate(1057.8125 0)"/>
<use xlink:href="#DejaVuSans-30" transform="translate(1089.599609 0)"/>
<use xlink:href="#DejaVuSans-30" transform="translate(1153.222656 0)"/>
<use xlink:href="#DejaVuSans-30" transform="translate(1216.845703 0)"/>
<use xlink:href="#DejaVuSans-29" transform="translate(1280.46875 0)"/>
</g>
</g>
<g id="text_27">
<!-- Component_15 (w=1.000) -->
<g transform="translate(724.725 258.588) scale(0.09 -0.09)">
<use xlink:href="#DejaVuSans-43"/>
<use xlink:href="#DejaVuSans-6f" transform="translate(69.824219 0)"/>
<use xlink:href="#DejaVuSans-6d" transform="translate(131.005859 0)"/>
<use xlink:href="#DejaVuSans-70" transform="translate(228.417969 0)"/>
<use xlink:href="#DejaVuSans-6f" transform="translate(291.894531 0)"/>
<use xlink:href="#DejaVuSans-6e" transform="translate(353.076172 0)"/>
<use xlink:href="#DejaVuSans-65" transform="translate(416.455078 0)"/>
<use xlink:href="#DejaVuSans-6e" transform="translate(477.978516 0)"/>
<use xlink:href="#DejaVuSans-74" transform="translate(541.357422 0)"/>
<use xlink:href="#DejaVuSans-5f" transform="translate(580.566406 0)"/>
<use xlink:href="#DejaVuSans-31" transform="translate(630.566406 0)"/>
<use xlink:href="#DejaVuSans-35" transform="translate(694.189453 0)"/>
<use xlink:href="#DejaVuSans-20" transform="translate(757.8125 0)"/>
<use xlink:href="#DejaVuSans-28" transform="translate(789.599609 0)"/>
<use xlink:href="#DejaVuSans-77" transform="translate(828.613281 0)"/>
<use xlink:href="#DejaVuSans-3d" transform="translate(910.400391 0)"/>
<use xlink:href="#DejaVuSans-31" transform="translate(994.189453 0)"/>
<use xlink:href="#DejaVuSans-2e" transform="translate(1057.8125 0)"/>
<use xlink:href="#DejaVuSans-30" transform="translate(1089.599609 0)"/>
<use xlink:href="#DejaVuSans-30" transform="translate(1153.222656 0)"/>
<use xlink:href="#DejaVuSans-30" transform="translate(1216.845703 0)"/>
<use xlink:href="#DejaVuSans-29" transform="translate(1280.46875 0)"/>
</g>
</g>
<g id="text_28">
<!-- Component_16 (w=1.000) -->
<g transform="translate(724.725 272.688) scale(0.09 -0.09)">
<use xlink:href="#DejaVuSans-43"/>
<use xlink:href="#DejaVuSans-6f" transform="translate(69.824219 0)"/>
<use xlink:href="#DejaVuSans-6d" transform="translate(131.005859 0)"/>
<use xlink:href="#DejaVuSans-70" transform="translate(228.417969 0)"/>
<use xlink:href="#DejaVuSans-6f" transform="translate(291.894531 0)"/>
<use xlink:href="#DejaVuSans-6e" transform="translate(353.076172 0)"/>
<use xlink:href="#DejaVuSans-65" transform="translate(416.455078 0)"/>
<use xlink:href="#DejaVuSans-6e" transform="translate(477.978516 0)"/>
<use xlink:href="#DejaVuSans-74" transform="translate(541.357422 0)"/>
<use xlink:href="#DejaVuSans-5f" transform="translate(580.566406 0)"/>
<use xlink:href="#DejaVuSans-31" transform="translate(630.566406 0)"/>
<use xlink:href="#DejaVuSans-36" transform="translate(694.189453 0)"/>
<use xlink:href="#DejaVuSans-20" transform="translate(757.8125 0)"/>
<use xlink:href="#DejaVuSans-28" transform="translate(789.599609 0)"/>
<use xlink:href="#DejaVuSans-77" transform="translate(828.613281 0)"/>
<use xlink:href="#DejaVuSans-3d" transform="translate(910.400391 0)"/>
<use xlink:href="#DejaVuSans-31" transform="translate(994.189453 0)"/>
<use xlink:href="#DejaVuSans-2e" transform="translate(1057.8125 0)"/>
<use xlink:href="#DejaVuSans-30" transform="translate(1089.599609 0)"/>
<use xlink:href="#DejaVuSans-30" transform="translate(1153.222656 0)"/>
<use xlink:href="#DejaVuSans-30" transform="translate(1216.845703 0)"/>
<use xlink:href="#DejaVuSans-29" transform="translate(1280.46875 0)"/>
</g>
</g>
<g id="text_29">
<!-- Component_17 (w=1.000) -->
<g transform="translate(724.725 286.788) scale(0.09 -0.09)">
<use xlink:href="#DejaVuSans-43"/>
<use xlink:href="#DejaVuSans-6f" transform="translate(69.824219 0)"/>
<use xlink:href="#DejaVuSans-6d" transform="translate(131.005859 0)"/>
<use xlink:href="#DejaVuSans-70" transform="translate(228.417969 0)"/>
<use xlink:href="#DejaVuSans-6f" transform="translate(291.894531 0)"/>
<use xlink:href="#DejaVuSans-6e" transform="translate(353.076172 0)"/>
<use xlink:href="#DejaVuSans-65" transform="translate(416.455078 0)"/>
<use xlink:href="#DejaVuSans-6e" transform="translate(477.978516 0)"/>
<use xlink:href="#DejaVuSans-74" transform="translate(541.357422 0)"/>
<use xlink:href="#DejaVuSans-5f" transform="translate(580.566406 0)"/>
<use xlink:href="#DejaVuSans-31" transform="translate(630.566406 0)"/>
<use xlink:href="#DejaVuSans-37" transform="translate(694.189453 0)"/>
<use xlink:href="#DejaVuSans-20" transform="translate(757.8125 0)"/>
<use xlink:href="#DejaVuSans-28" transform="translate(789.599609 0)"/>
<use xlink:href="#DejaVuSans-77" transform="translate(828.613281 0)"/>
<use xlink:href="#DejaVuSans-3d" transform="translate(910.400391 0)"/>
<use xlink:href="#DejaVuSans-31" transform="translate(994.189453 0)"/>
<use xlink:href="#DejaVuSans-2e" transform="translate(1057.8125 0)"/>
<use xlink:href="#DejaVuSans-30" transform="translate(1089.599609 0)"/>
<use xlink:href="#DejaVuSans-30" transform="translate(1153.222656 0)"/>
<use xlink:href="#DejaVuSans-30" transform="translate(1216.845703 0)"/>
<use xlink:href="#DejaVuSans-29" transform="translate(1280.46875 0)"/>
</g>
</g>
<g id="text_30">
<!-- Component_18 (w=1.000) -->
<g transform="translate(724.725 300.888) scale(0.09 -0.09)">
<use xlink:href="#DejaVuSans-43"/>
<use xlink:href="#DejaVuSans-6f" transform="translate(69.824219 0)"/>
<use xlink:href="#DejaVuSans-6d" transform="translate(131.005859 0)"/>
<use xlink:href="#DejaVuSans-70" transform="translate(228.417969 0)"/>
<use xlink:href="#DejaVuSans-6f" transform="translate(291.894531 0)"/>
<use xlink:href="#DejaVuSans-6e" transform="translate(353.076172 0)"/>
<use xlink:href="#DejaVuSans-65" transform="translate(416.455078 0)"/>
<use xlink:href="#DejaVuSans-6e" transform="translate(477.978516 0)"/>
<use xlink:href="#DejaVuSans-74" transform="translate(541.357422 0)"/>
<use xlink:href="#DejaVuSans-5f" transform="translate(580.566406 0)"/>
<use xlink:href="#DejaVuSans-31" transform="translate(630.566406 0)"/>
<use xlink:href="#DejaVuSans-38" transform="translate(694.189453 0)"/>
<use xlink:href="#DejaVuSans-20" transform="translate(757.8125 0)"/>
<use xlink:href="#DejaVuSans-28" transform="translate(789.599609 0)"/>
<use xlink:href="#DejaVuSans-77" transform="translate(828.613281 0)"/>
<use xlink:href="#DejaVuSans-3d" transform="translate(910.400391 0)"/>
<use xlink:href="#DejaVuSans-31" transform="translate(994.189453 0)"/>
<use xlink:href="#DejaVuSans-2e" transform="translate(1057.8125 0)"/>
<use xlink:href="#DejaVuSans-30" transform="translate(1089.599609 0)"/>
<use xlink:href="#DejaVuSans-30" transform="translate(1153.222656 0)"/>
<use xlink:href="#DejaVuSans-30" transform="translate(1216.845703 0)"/>
<use xlink:href="#DejaVuSans-29" transform="translate(1280.46875 0)"/>
</g>
</g>
<g id="text_31">
<!-- Component_19 (w=1.000) -->
<g transform="translate(724.725 314.988) scale(0.09 -0.09)">
<use xlink:href="#DejaVuSans-43"/>
<use xlink:href="#DejaVuSans-6f" transform="translate(69.824219 0)"/>
<use xlink:href="#DejaVuSans-6d" transform="translate(131.005859 0)"/>
<use xlink:href="#DejaVuSans-70" transform="translate(228.417969 0)"/>
<use xlink:href="#DejaVuSans-6f" transform="translate(291.894531 0)"/>
<use xlink:href="#DejaVuSans-6e" transform="translate(353.076172 0)"/>
<use xlink:href="#DejaVuSans-65" transform="translate(416.455078 0)"/>
<use xlink:href="#DejaVuSans-6e" transform="translate(477.978516 0)"/>
<use xlink:href="#DejaVuSans-74" transform="translate(541.357422 0)"/>
<use xlink:href="#DejaVuSans-5f" transform="translate(580.566406 0)"/>
<use xlink:href="#DejaVuSans-31" transform="translate(630.566406 0)"/>
<use xlink:href="#DejaVuSans-39" transform="translate(694.189453 0)"/>
<use xlink:href="#DejaVuSans-20" transform="translate(757.8125 0)"/>
<use xlink:href="#DejaVuSans-28" transform="translate(789.599609 0)"/>
<use xlink:href="#DejaVuSans-77" transform="translate(828.613281 0)"/>
<use xlink:href="#DejaVuSans-3d" transform="translate(910.400391 0)"/>
<use xlink:href="#DejaVuSans-31" transform="translate(994.189453 0)"/>
<use xlink:href="#DejaVuSans-2e" transform="translate(1057.8125 0)"/>
<use xlink:href="#DejaVuSans-30" transform="translate(1089.599609 0)"/>
<use xlink:href="#DejaVuSans-30" transform="translate(1153.222656 0)"/>
<use xlink:href="#DejaVuSans-30" transform="translate(1216.845703 0)"/>
<use xlink:href="#DejaVuSans-29" transform="translate(1280.46875 0)"/>
</g>
</g>
<g id="text_32">
<!-- Component_20 (w=1.000) -->
<g transform="translate(724.725 329.088) scale(0.09 -0.09)">
<use xlink:href="#DejaVuSans-43"/>
<use xlink:href="#DejaVuSans-6f" transform="translate(69.824219 0)"/>
<use xlink:href="#DejaVuSans-6d" transform="translate(131.005859 0)"/>
<use xlink:href="#DejaVuSans-70" transform="translate(228.417969 0)"/>
<use xlink:href="#DejaVuSans-6f" transform="translate(291.894531 0)"/>
<use xlink:href="#DejaVuSans-6e" transform="translate(353.076172 0)"/>
<use xlink:href="#DejaVuSans-65" transform="translate(416.455078 0)"/>
<use xlink:href="#DejaVuSans-6e" transform="translate(477.978516 0)"/>
<use xlink:href="#DejaVuSans-74" transform="translate(541.357422 0)"/>
<use xlink:href="#DejaVuSans-5f" transform="translate(580.566406 0)"/>
<use xlink:href="#DejaVuSans-32" transform="translate(630.566406 0)"/>
<use xlink:href="#DejaVuSans-30" transform="translate(694.189453 0)"/>
<use xlink:href="#DejaVuSans-20" transform="translate(757.8125 0)"/>
<use xlink:href="#DejaVuSans-28" transform="translate(789.599609 0)"/>
<use xlink:href="#DejaVuSans-77" transform="translate(828.613281 0)"/>
<use xlink:href="#DejaVuSans-3d" transform="translate(910.400391 0)"/>
<use xlink:href="#DejaVuSans-31" transform="translate(994.189453 0)"/>
<use xlink:href="#DejaVuSans-2e" transform="translate(1057.8125 0)"/>
<use xlink:href="#DejaVuSans-30" transform="translate(1089.599609 0)"/>
<use xlink:href="#DejaVuSans-30" transform="translate(1153.222656 0)"/>
<use xlink:href="#DejaVuSans-30" transform="translate(1216.845703 0)"/>
<use xlink:href="#DejaVuSans-29" transform="translate(1280.46875 0)"/>
</g>
</g>
<g id="text_33">
<!-- Component_21 (w=1.000) -->
<g transform="translate(724.725 343.188) scale(0.09 -0.09)">
<use xlink:href="#DejaVuSans-43"/>
<use xlink:href="#DejaVuSans-6f" transform="translate(69.824219 0)"/>
<use xlink:href="#DejaVuSans-6d" transform="translate(131.005859 0)"/>
<use xlink:href="#DejaVuSans-70" transform="translate(228.417969 0)"/>
<use xlink:href="#DejaVuSans-6f" transform="translate(291.894531 0)"/>
<use xlink:href="#DejaVuSans-6e" transform="translate(353.076172 0)"/>
<use xlink:href="#DejaVuSans-65" transform="translate(416.455078 0)"/>
<use xlink:href="#DejaVuSans-6e" transform="translate(477.978516 0)"/>
<use xlink:href="#DejaVuSans-74" transform="translate(541.357422 0)"/>
<use xlink:href="#DejaVuSans-5f" transform="translate(580.566406 0)"/>
<use xlink:href="#DejaVuSans-32" transform="translate(630.566406 0)"/>
<use xlink:href="#DejaVuSans-31" transform="translate(694.189453 0)"/>
<use xlink:href="#DejaVuSans-20" transform="translate(757.8125 0)"/>
<use xlink:href="#DejaVuSans-28" transform="translate(789.599609 0)"/>
<use xlink:href="#DejaVuSans-77" transform="translate(828.613281 0)"/>
<use xlink:href="#DejaVuSans-3d" transform="translate(910.400391 0)"/>
<use xlink:href="#DejaVuSans-31" transform="translate(994.189453 0)"/>
<use xlink:href="#DejaVuSans-2e" transform="translate(1057.8125 0)"/>
<use xlink:href="#DejaVuSans-30" transform="translate(1089.599609 0)"/>
<use xlink:href="#DejaVuSans-30" transform="translate(1153.222656 0)"/>
<use xlink:href="#DejaVuSans-30" transform="translate(1216.845703 0)"/>
<use xlink:href="#DejaVuSans-29" transform="translate(1280.46875 0)"/>
</g>
</g>
<g id="text_34">
<!-- Component_22 (w=1.000) -->
<g transform="translate(724.725 357.288) scale(0.09 -0.09)">
<use xlink:href="#DejaVuSans-43"/>
<use xlink:href="#DejaVuSans-6f" transform="translate(69.824219 0)"/>
<use xlink:href="#DejaVuSans-6d" transform="translate(131.005859 0)"/>
<use xlink:href="#DejaVuSans-70" transform="translate(228.417969 0)"/>
<use xlink:href="#DejaVuSans-6f" transform="translate(291.894531 0)"/>
<use xlink:href="#DejaVuSans-6e" transform="translate(353.076172 0)"/>
<use xlink:href="#DejaVuSans-65" transform="translate(416.455078 0)"/>
<use xlink:href="#DejaVuSans-6e" transform="translate(477.978516 0)"/>
<use xlink:href="#DejaVuSans-74" transform="translate(541.357422 0)"/>
<use xlink:href="#DejaVuSans-5f" transform="translate(580.566406 0)"/>
<use xlink:href="#DejaVuSans-32" transform="translate(630.566406 0)"/>
<use xlink:href="#DejaVuSans-32" transform="translate(694.189453 0)"/>
<use xlink:href="#DejaVuSans-20" transform="translate(757.8125 0)"/>
<use xlink:href="#DejaVuSans-28" transform="translate(789.599609 0)"/>
<use xlink:href="#DejaVuSans-77" transform="translate(828.613281 0)"/>
<use xlink:href="#DejaVuSans-3d" transform="translate(910.400391 0)"/>
<use xlink:href="#DejaVuSans-31" transform="translate(994.189453 0)"/>
<use xlink:href="#DejaVuSans-2e" transform="translate(1057.8125 0)"/>
<use xlink:href="#DejaVuSans-30" transform="translate(1089.599609 0)"/>
<use xlink:href="#DejaVuSans-30" transform="translate(1153.222656 0)"/>
<use xlink:href="#DejaVuSans-30" transform="translate(1216.845703 0)"/>
<use xlink:href="#DejaVuSans-29" transform="translate(1280.46875 0)"/>
</g>
</g>
<g id="text_35">
<!-- Component_23 (w=1.000) -->
<g transform="translate(724.725 371.388) scale(0.09 -0.09)">
<use xlink:href="#DejaVuSans-43"/>
<use xlink:href="#DejaVuSans-6f" transform="translate(69.824219 0)"/>
<use xlink:href="#DejaVuSans-6d" transform="translate(131.005859 0)"/>
<use xlink:href="#DejaVuSans-70" transform="translate(228.417969 0)"/>
<use xlink:href="#DejaVuSans-6f" transform="translate(291.894531 0)"/>
<use xlink:href="#DejaVuSans-6e" transform="translate(353.076172 0)"/>
<use xlink:href="#DejaVuSans-65" transform="translate(416.455078 0)"/>
<use xlink:href="#DejaVuSans-6e" transform="translate(477.978516 0)"/>
<use xlink:href="#DejaVuSans-74" transform="translate(541.357422 0)"/>
<use xlink:href="#DejaVuSans-5f" transform="translate(580.566406 0)"/>
<use xlink:href="#DejaVuSans-32" transform="translate(630.566406 0)"/>
<use xlink:href="#DejaVuSans-33" transform="translate(694.189453 0)"/>
<use xlink:href="#DejaVuSans-20" transform="translate(757.8125 0)"/>
<use xlink:href="#DejaVuSans-28" transform="translate(789.599609 0)"/>
<use xlink:href="#DejaVuSans-77" transform="translate(828.613281 0)"/>
<use xlink:href="#DejaVuSans-3d" transform="translate(910.400391 0)"/>
<use xlink:href="#DejaVuSans-31" transform="translate(994.189453 0)"/>
<use xlink:href="#DejaVuSans-2e" transform="translate(1057.8125 0)"/>
<use xlink:href="#DejaVuSans-30" transform="translate(1089.599609 0)"/>
<use xlink:href="#DejaVuSans-30" transform="translate(1153.222656 0)"/>
<use xlink:href="#DejaVuSans-30" transform="translate(1216.845703 0)"/>
<use xlink:href="#DejaVuSans-29" transform="translate(1280.46875 0)"/>
</g>
</g>
<g id="text_36">
<!-- Component_24 (w=1.000) -->
<g transform="translate(724.725 385.488) scale(0.09 -0.09)">
<use xlink:href="#DejaVuSans-43"/>
<use xlink:href="#DejaVuSans-6f" transform="translate(69.824219 0)"/>
<use xlink:href="#DejaVuSans-6d" transform="translate(131.005859 0)"/>
<use xlink:href="#DejaVuSans-70" transform="translate(228.417969 0)"/>
<use xlink:href="#DejaVuSans-6f" transform="translate(291.894531 0)"/>
<use xlink:href="#DejaVuSans-6e" transform="translate(353.076172 0)"/>
<use xlink:href="#DejaVuSans-65" transform="translate(416.455078 0)"/>
<use xlink:href="#DejaVuSans-6e" transform="translate(477.978516 0)"/>
<use xlink:href="#DejaVuSans-74" transform="translate(541.357422 0)"/>
<use xlink:href="#DejaVuSans-5f" transform="translate(580.566406 0)"/>
<use xlink:href="#DejaVuSans-32" transform="translate(630.566406 0)"/>
<use xlink:href="#DejaVuSans-34" transform="translate(694.189453 0)"/>
<use xlink:href="#DejaVuSans-20" transform="translate(757.8125 0)"/>
<use xlink:href="#DejaVuSans-28" transform="translate(789.599609 0)"/>
<use xlink:href="#DejaVuSans-77" transform="translate(828.613281 0)"/>
<use xlink:href="#DejaVuSans-3d" transform="translate(910.400391 0)"/>
<use xlink:href="#DejaVuSans-31" transform="translate(994.189453 0)"/>
<use xlink:href="#DejaVuSans-2e" transform="translate(1057.8125 0)"/>
<use xlink:href="#DejaVuSans-30" transform="translate(1089.599609 0)"/>
<use xlink:href="#DejaVuSans-30" transform="translate(1153.222656 0)"/>
<use xlink:href="#DejaVuSans-30" transform="translate(1216.845703 0)"/>
<use xlink:href="#DejaVuSans-29" transform="translate(1280.46875 0)"/>
</g>
</g>
<g id="text_37">
<!-- Component_25 (w=1.000) -->
<g transform="translate(724.725 399.588) scale(0.09 -0.09)">
<use xlink:href="#DejaVuSans-43"/>
<use xlink:href="#DejaVuSans-6f" transform="translate(69.824219 0)"/>
<use xlink:href="#DejaVuSans-6d" transform="translate(131.005859 0)"/>
<use xlink:href="#DejaVuSans-70" transform="translate(228.417969 0)"/>
<use xlink:href="#DejaVuSans-6f" transform="translate(291.894531 0)"/>
<use xlink:href="#DejaVuSans-6e" transform="translate(353.076172 0)"/>
<use xlink:href="#DejaVuSans-65" transform="translate(416.455078 0)"/>
<use xlink:href="#DejaVuSans-6e" transform="translate(477.978516 0)"/>
<use xlink:href="#DejaVuSans-74" transform="translate(541.357422 0)"/>
<use xlink:href="#DejaVuSans-5f" transform="translate(580.566406 0)"/>
<use xlink:href="#DejaVuSans-32" transform="translate(630.566406 0)"/>
<use xlink:href="#DejaVuSans-35" transform="translate(694.189453 0)"/>
<use xlink:href="#DejaVuSans-20" transform="translate(757.8125 0)"/>
<use xlink:href="#DejaVuSans-28" transform="translate(789.599609 0)"/>
<use xlink:href="#DejaVuSans-77" transform="translate(828.613281 0)"/>
<use xlink:href="#DejaVuSans-3d" transform="translate(910.400391 0)"/>
<use xlink:href="#DejaVuSans-31" transform="translate(994.189453 0)"/>
<use xlink:href="#DejaVuSans-2e" transform="translate(1057.8125 0)"/>
<use xlink:href="#DejaVuSans-30" transform="translate(1089.599609 0)"/>
<use xlink:href="#DejaVuSans-30" transform="translate(1153.222656 0)"/>
<use xlink:href="#DejaVuSans-30" transform="translate(1216.845703 0)"/>
<use xlink:href="#DejaVuSans-29" transform="translate(1280.46875 0)"/>
</g>
</g>
<g id="text_38">
<!-- Component_26 (w=1.000) -->
<g transform="translate(724.725 413.688) scale(0.09 -0.09)">
<use xlink:href="#DejaVuSans-43"/>
<use xlink:href="#DejaVuSans-6f" transform="translate(69.824219 0)"/>
<use xlink:href="#DejaVuSans-6d" transform="translate(131.005859 0)"/>
<use xlink:href="#DejaVuSans-70" transform="translate(228.417969 0)"/>
<use xlink:href="#DejaVuSans-6f" transform="translate(291.894531 0)"/>
<use xlink:href="#DejaVuSans-6e" transform="translate(353.076172 0)"/>
<use xlink:href="#DejaVuSans-65" transform="translate(416.455078 0)"/>
<use xlink:href="#DejaVuSans-6e" transform="translate(477.978516 0)"/>
<use xlink:href="#DejaVuSans-74" transform="translate(541.357422 0)"/>
<use xlink:href="#DejaVuSans-5f" transform="translate(580.566406 0)"/>
<use xlink:href="#DejaVuSans-32" transform="translate(630.566406 0)"/>
<use xlink:href="#DejaVuSans-36" transform="translate(694.189453 0)"/>
<use xlink:href="#DejaVuSans-20" transform="translate(757.8125 0)"/>
<use xlink:href="#DejaVuSans-28" transform="translate(789.599609 0)"/>
<use xlink:href="#DejaVuSans-77" transform="translate(828.613281 0)"/>
<use xlink:href="#DejaVuSans-3d" transform="translate(910.400391 0)"/>
<use xlink:href="#DejaVuSans-31" transform="translate(994.189453 0)"/>
<use xlink:href="#DejaVuSans-2e" transform="translate(1057.8125 0)"/>
<use xlink:href="#DejaVuSans-30" transform="translate(1089.599609 0)"/>
<use xlink:href="#DejaVuSans-30" transform="translate(1153.222656 0)"/>
<use xlink:href="#DejaVuSans-30" transform="translate(1216.845703 0)"/>
<use xlink:href="#DejaVuSans-29" transform="translate(1280.46875 0)"/>
</g>
</g>
<g id="text_39">
<!-- Component_27 (w=1.000) -->
<g transform="translate(724.725 427.788) scale(0.09 -0.09)">
<use xlink:href="#DejaVuSans-43"/>
<use xlink:href="#DejaVuSans-6f" transform="translate(69.824219 0)"/>
<use xlink:href="#DejaVuSans-6d" transform="translate(131.005859 0)"/>
<use xlink:href="#DejaVuSans-70" transform="translate(228.417969 0)"/>
<use xlink:href="#DejaVuSans-6f" transform="translate(291.894531 0)"/>
<use xlink:href="#DejaVuSans-6e" transform="translate(353.076172 0)"/>
<use xlink:href="#DejaVuSans-65" transform="translate(416.455078 0)"/>
<use xlink:href="#DejaVuSans-6e" transform="translate(477.978516 0)"/>
<use xlink:href="#DejaVuSans-74" transform="translate(541.357422 0)"/>
<use xlink:href="#DejaVuSans-5f" transform="translate(580.566406 0)"/>
<use xlink:href="#DejaVuSans-32" transform="translate(630.566406 0)"/>
<use xlink:href="#DejaVuSans-37" transform="translate(694.189453 0)"/>
<use xlink:href="#DejaVuSans-20" transform="translate(757.8125 0)"/>
<use xlink:href="#DejaVuSans-28" transform="translate(789.599609 0)"/>
<use xlink:href="#DejaVuSans-77" transform="translate(828.613281 0)"/>
<use xlink:href="#DejaVuSans-3d" transform="translate(910.400391 0)"/>
<use xlink:href="#DejaVuSans-31" transform="translate(994.189453 0)"/>
<use xlink:href="#DejaVuSans-2e" transform="translate(1057.8125 0)"/>
<use xlink:href="#DejaVuSans-30" transform="translate(1089.599609 0)"/>
<use xlink:href="#DejaVuSans-30" transform="translate(1153.222656 0)"/>
<use xlink:href="#DejaVuSans-30" transform="translate(1216.845703 0)"/>
<use xlink:href="#DejaVuSans-29" transform="translate(1280.46875 0)"/>
</g>
</g>
<g id="text_40">
<!-- Component_28 (w=1.000) -->
<g transform="translate(724.725 441.888) scale(0.09 -0.09)">
<use xlink:href="#DejaVuSans-43"/>
<use xlink:href="#DejaVuSans-6f" transform="translate(69.824219 0)"/>
<use xlink:href="#DejaVuSans-6d" transform="translate(131.005859 0)"/>
<use xlink:href="#DejaVuSans-70" transform="translate(228.417969 0)"/>
<use xlink:href="#DejaVuSans-6f" transform="translate(291.894531 0)"/>
<use xlink:href="#DejaVuSans-6e" transform="translate(353.076172 0)"/>
<use xlink:href="#DejaVuSans-65" transform="translate(416.455078 0)"/>
<use xlink:href="#DejaVuSans-6e" transform="translate(477.978516 0)"/>
<use xlink:href="#DejaVuSans-74" transform="translate(541.357422 0)"/>
<use xlink:href="#DejaVuSans-5f" transform="translate(580.566406 0)"/>
<use xlink:href="#DejaVuSans-32" transform="translate(630.566406 0)"/>
<use xlink:href="#DejaVuSans-38" transform="translate(694.189453 0)"/>
<use xlink:href="#DejaVuSans-20" transform="translate(757.8125 0)"/>
<use xlink:href="#DejaVuSans-28" transform="translate(789.599609 0)"/>
<use xlink:href="#DejaVuSans-77" transform="translate(828.613281 0)"/>
<use xlink:href="#DejaVuSans-3d" transform="translate(910.400391 0)"/>
<use xlink:href="#DejaVuSans-31" transform="translate(994.189453 0)"/>
<use xlink:href="#DejaVuSans-2e" transform="translate(1057.8125 0)"/>
<use xlink:href="#DejaVuSans-30" transform="translate(1089.599609 0)"/>
<use xlink:href="#DejaVuSans-30" transform="translate(1153.222656 0)"/>
<use xlink:href="#DejaVuSans-30" transform="translate(1216.845703 0)"/>
<use xlink:href="#DejaVuSans-29" transform="translate(1280.46875 0)"/>
</g>
</g>
<g id="text_41">
<!-- Component_29 (w=1.000) -->
<g transform="translate(724.725 455.988) scale(0.09 -0.09)">
<use xlink:href="#DejaVuSans-43"/>
<use xlink:href="#DejaVuSans-6f" transform="translate(69.824219 0)"/>
<use xlink:href="#DejaVuSans-6d" transform="translate(131.005859 0)"/>
<use xlink:href="#DejaVuSans-70" transform="translate(228.417969 0)"/>
<use xlink:href="#DejaVuSans-6f" transform="translate(291.894531 0)"/>
<use xlink:href="#DejaVuSans-6e" transform="translate(353.076172 0)"/>
<use xlink:href="#DejaVuSans-65" transform="translate(416.455078 0)"/>
<use xlink:href="#DejaVuSans-6e" transform="translate(477.978516 0)"/>
<use xlink:href="#DejaVuSans-74" transform="translate(541.357422 0)"/>
<use xlink:href="#DejaVuSans-5f" transform="translate(580.566406 0)"/>
<use xlink:href="#DejaVuSans-32" transform="translate(630.566406 0)"/>
<use xlink:href="#DejaVuSans-39" transform="translate(694.189453 0)"/>
<use xlink:href="#DejaVuSans-20" transform="translate(757.8125 0)"/>
<use xlink:href="#DejaVuSans-28" transform="translate(789.599609 0)"/>
<use xlink:href="#DejaVuSans-77" transform="translate(828.613281 0)"/>
<use xlink:href="#DejaVuSans-3d" transform="translate(910.400391 0)"/>
<use xlink:href="#DejaVuSans-31" transform="translate(994.189453 0)"/>
<use xlink:href="#DejaVuSans-2e" transform="translate(1057.8125 0)"/>
<use xlink:href="#DejaVuSans-30" transform="translate(1089.599609 0)"/>
<use xlink:href="#DejaVuSans-30" transform="translate(1153.222656 0)"/>
<use xlink:href="#DejaVuSans-30" transform="translate(1216.845703 0)"/>
<use xlink:href="#DejaVuSans-29" transform="translate(1280.46875 0)"/>
</g>
</g>
<g id="text_42">
<!-- Component_30 (w=1.000) -->
<g transform="translate(724.725 470.088) scale(0.09 -0.09)">
<use xlink:href="#DejaVuSans-43"/>
<use xlink:href="#DejaVuSans-6f" transform="translate(69.824219 0)"/>
<use xlink:href="#DejaVuSans-6d" transform="translate(131.005859 0)"/>
<use xlink:href="#DejaVuSans-70" transform="translate(228.417969 0)"/>
<use xlink:href="#DejaVuSans-6f" transform="translate(291.894531 0)"/>
<use xlink:href="#DejaVuSans-6e" transform="translate(353.076172 0)"/>
<use xlink:href="#DejaVuSans-65" transform="translate(416.455078 0)"/>
<use xlink:href="#DejaVuSans-6e" transform="translate(477.978516 0)"/>
<use xlink:href="#DejaVuSans-74" transform="translate(541.357422 0)"/>
<use xlink:href="#DejaVuSans-5f" transform="translate(580.566406 0)"/>
<use xlink:href="#DejaVuSans-33" transform="translate(630.566406 0)"/>
<use xlink:href="#DejaVuSans-30" transform="translate(694.189453 0)"/>
<use xlink:href="#DejaVuSans-20" transform="translate(757.8125 0)"/>
<use xlink:href="#DejaVuSans-28" transform="translate(789.599609 0)"/>
<use xlink:href="#DejaVuSans-77" transform="translate(828.613281 0)"/>
<use xlink:href="#DejaVuSans-3d" transform="translate(910.400391 0)"/>
<use xlink:href="#DejaVuSans-31" transform="translate(994.189453 0)"/>
<use xlink:href="#DejaVuSans-2e" transform="translate(1057.8125 0)"/>
<use xlink:href="#DejaVuSans-30" transform="translate(1089.599609 0)"/>
<use xlink:href="#DejaVuSans-30" transform="translate(1153.222656 0)"/>
<use xlink:href="#DejaVuSans-30" transform="translate(1216.845703 0)"/>
<use xlink:href="#DejaVuSans-29" transform="translate(1280.46875 0)"/>
</g>
</g>
<g id="text_43">
<!-- Component_31 (w=1.000) -->
<g transform="translate(724.725 484.188) scale(0.09 -0.09)">
<use xlink:href="#DejaVuSans-43"/>
<use xlink:href="#DejaVuSans-6f" transform="translate(69.824219 0)"/>
<use xlink:href="#DejaVuSans-6d" transform="translate(131.005859 0)"/>
<use xlink:href="#DejaVuSans-70" transform="translate(228.417969 0)"/>
<use xlink:href="#DejaVuSans-6f" transform="translate(291.894531 0)"/>
<use xlink:href="#DejaVuSans-6e" transform="translate(353.076172 0)"/>
<use xlink:href="#DejaVuSans-65" transform="translate(416.455078 0)"/>
<use xlink:href="#DejaVuSans-6e" transform="translate(477.978516 0)"/>
<use xlink:href="#DejaVuSans-74" transform="translate(541.357422 0)"/>
<use xlink:href="#DejaVuSans-5f" transform="translate(580.566406 0)"/>
<use xlink:href="#DejaVuSans-33" transform="translate(630.566406 0)"/>
<use xlink:href="#DejaVuSans-31" transform="translate(694.189453 0)"/>
<use xlink:href="#DejaVuSans-20" transform="translate(757.8125 0)"/>
<use xlink:href="#DejaVuSans-28" transform="translate(789.599609 0)"/>
<use xlink:href="#DejaVuSans-77" transform="translate(828.613281 0)"/>
<use xlink:href="#DejaVuSans-3d" transform="translate(910.400391 0)"/>
<use xlink:href="#DejaVuSans-31" transform="translate(994.189453 0)"/>
<use xlink:href="#DejaVuSans-2e" transform="translate(1057.8125 0)"/>
<use xlink:href="#DejaVuSans-30" transform="translate(1089.599609 0)"/>
<use xlink:href="#DejaVuSans-30" transform="translate(1153.222656 0)"/>
<use xlink:href="#DejaVuSans-30" transform="translate(1216.845703 0)"/>
<use xlink:href="#DejaVuSans-29" transform="translate(1280.46875 0)"/>
</g>
</g>
<g id="text_44">
<!-- Component_32 (w=1.000) -->
<g transform="translate(724.725 498.288) scale(0.09 -0.09)">
<use xlink:href="#DejaVuSans-43"/>
<use xlink:href="#DejaVuSans-6f" transform="translate(69.824219 0)"/>
<use xlink:href="#DejaVuSans-6d" transform="translate(131.005859 0)"/>
<use xlink:href="#DejaVuSans-70" transform="translate(228.417969 0)"/>
<use xlink:href="#DejaVuSans-6f" transform="translate(291.894531 0)"/>
<use xlink:href="#DejaVuSans-6e" transform="translate(353.076172 0)"/>
<use xlink:href="#DejaVuSans-65" transform="translate(416.455078 0)"/>
<use xlink:href="#DejaVuSans-6e" transform="translate(477.978516 0)"/>
<use xlink:href="#DejaVuSans-74" transform="translate(541.357422 0)"/>
<use xlink:href="#DejaVuSans-5f" transform="translate(580.566406 0)"/>
<use xlink:href="#DejaVuSans-33" transform="translate(630.566406 0)"/>
<use xlink:href="#DejaVuSans-32" transform="translate(694.189453 0)"/>
<use xlink:href="#DejaVuSans-20" transform="translate(757.8125 0)"/>
<use xlink:href="#DejaVuSans-28" transform="translate(789.599609 0)"/>
<use xlink:href="#DejaVuSans-77" transform="translate(828.613281 0)"/>
<use xlink:href="#DejaVuSans-3d" transform="translate(910.400391 0)"/>
<use xlink:href="#DejaVuSans-31" transform="translate(994.189453 0)"/>
<use xlink:href="#DejaVuSans-2e" transform="translate(1057.8125 0)"/>
<use xlink:href="#DejaVuSans-30" transform="translate(1089.599609 0)"/>
<use xlink:href="#DejaVuSans-30" transform="translate(1153.222656 0)"/>
<use xlink:href="#DejaVuSans-30" transform="translate(1216.845703 0)"/>
<use xlink:href="#DejaVuSans-29" transform="translate(1280.46875 0)"/>
</g>
</g>
<g id="text_45">
<!-- Component_33 (w=1.000) -->
<g transform="translate(724.725 512.388) scale(0.09 -0.09)">
<use xlink:href="#DejaVuSans-43"/>
<use xlink:href="#DejaVuSans-6f" transform="translate(69.824219 0)"/>
<use xlink:href="#DejaVuSans-6d" transform="translate(131.005859 0)"/>
<use xlink:href="#DejaVuSans-70" transform="translate(228.417969 0)"/>
<use xlink:href="#DejaVuSans-6f" transform="translate(291.894531 0)"/>
<use xlink:href="#DejaVuSans-6e" transform="translate(353.076172 0)"/>
<use xlink:href="#DejaVuSans-65" transform="translate(416.455078 0)"/>
<use xlink:href="#DejaVuSans-6e" transform="translate(477.978516 0)"/>
<use xlink:href="#DejaVuSans-74" transform="translate(541.357422 0)"/>
<use xlink:href="#DejaVuSans-5f" transform="translate(580.566406 0)"/>
<use xlink:href="#DejaVuSans-33" transform="translate(630.566406 0)"/>
<use xlink:href="#DejaVuSans-33" transform="translate(694.189453 0)"/>
<use xlink:href="#DejaVuSans-20" transform="translate(757.8125 0)"/>
<use xlink:href="#DejaVuSans-28" transform="translate(789.599609 0)"/>
<use xlink:href="#DejaVuSans-77" transform="translate(828.613281 0)"/>
<use xlink:href="#DejaVuSans-3d" transform="translate(910.400391 0)"/>
<use xlink:href="#DejaVuSans-31" transform="translate(994.189453 0)"/>
<use xlink:href="#DejaVuSans-2e" transform="translate(1057.8125 0)"/>
<use xlink:href="#DejaVuSans-30" transform="translate(1089.599609 0)"/>
<use xlink:href="#DejaVuSans-30" transform="translate(1153.222656 0)"/>
<use xlink:href="#DejaVuSans-30" transform="translate(1216.845703 0)"/>
<use xlink:href="#DejaVuSans-29" transform="translate(1280.46875 0)"/>
</g>
</g>
<g id="text_46">
<!-- Component_34 (w=1.000) -->
<g transform="translate(724.725 526.488) scale(0.09 -0.09)">
<use xlink:href="#DejaVuSans-43"/>
<use xlink:href="#DejaVuSans-6f" transform="translate(69.824219 0)"/>
<use xlink:href="#DejaVuSans-6d" transform="translate(131.005859 0)"/>
<use xlink:href="#DejaVuSans-70" transform="translate(228.417969 0)"/>
<use xlink:href="#DejaVuSans-6f" transform="translate(291.894531 0)"/>
<use xlink:href="#DejaVuSans-6e" transform="translate(353.076172 0)"/>
<use xlink:href="#DejaVuSans-65" transform="translate(416.455078 0)"/>
<use xlink:href="#DejaVuSans-6e" transform="translate(477.978516 0)"/>
<use xlink:href="#DejaVuSans-74" transform="translate(541.357422 0)"/>
<use xlink:href="#DejaVuSans-5f" transform="translate(580.566406 0)"/>
<use xlink:href="#DejaVuSans-33" transform="translate(630.566406 0)"/>
<use xlink:href="#DejaVuSans-34" transform="translate(694.189453 0)"/>
<use xlink:href="#DejaVuSans-20" transform="translate(757.8125 0)"/>
<use xlink:href="#DejaVuSans-28" transform="translate(789.599609 0)"/>
<use xlink:href="#DejaVuSans-77" transform="translate(828.613281 0)"/>
<use xlink:href="#DejaVuSans-3d" transform="translate(910.400391 0)"/>
<use xlink:href="#DejaVuSans-31" transform="translate(994.189453 0)"/>
<use xlink:href="#DejaVuSans-2e" transform="translate(1057.8125 0)"/>
<use xlink:href="#DejaVuSans-30" transform="translate(1089.599609 0)"/>
<use xlink:href="#DejaVuSans-30" transform="translate(1153.222656 0)"/>
<use xlink:href="#DejaVuSans-30" transform="translate(1216.845703 0)"/>
<use xlink:href="#DejaVuSans-29" transform="translate(1280.46875 0)"/>
</g>
</g>
<g id="text_47">
<!-- Component_35 (w=1.000) -->
<g transform="translate(724.725 540.588) scale(0.09 -0.09)">
<use xlink:href="#DejaVuSans-43"/>
<use xlink:href="#DejaVuSans-6f" transform="translate(69.824219 0)"/>
<use xlink:href="#DejaVuSans-6d" transform="translate(131.005859 0)"/>
<use xlink:href="#DejaVuSans-70" transform="translate(228.417969 0)"/>
<use xlink:href="#DejaVuSans-6f" transform="translate(291.894531 0)"/>
<use xlink:href="#DejaVuSans-6e" transform="translate(353.076172 0)"/>
<use xlink:href="#DejaVuSans-65" transform="translate(416.455078 0)"/>
<use xlink:href="#DejaVuSans-6e" transform="translate(477.978516 0)"/>
<use xlink:href="#DejaVuSans-74" transform="translate(541.357422 0)"/>
<use xlink:href="#DejaVuSans-5f" transform="translate(580.566406 0)"/>
<use xlink:href="#DejaVuSans-33" transform="translate(630.566406 0)"/>
<use xlink:href="#DejaVuSans-35" transform="translate(694.189453 0)"/>
<use xlink:href="#DejaVuSans-20" transform="translate(757.8125 0)"/>
<use xlink:href="#DejaVuSans-28" transform="translate(789.599609 0)"/>
<use xlink:href="#DejaVuSans-77" transform="translate(828.613281 0)"/>
<use xlink:href="#DejaVuSans-3d" transform="translate(910.400391 0)"/>
<use xlink:href="#DejaVuSans-31" transform="translate(994.189453 0)"/>
<use xlink:href="#DejaVuSans-2e" transform="translate(1057.8125 0)"/>
<use xlink:href="#DejaVuSans-30" transform="translate(1089.599609 0)"/>
<use xlink:href="#DejaVuSans-30" transform="translate(1153.222656 0)"/>
<use xlink:href="#DejaVuSans-30" transform="translate(1216.845703 0)"/>
<use xlink:href="#DejaVuSans-29" transform="translate(1280.46875 0)"/>
</g>
</g>
</g>
<defs>
<clipPath id="pc95b3b33d3">
<rect x="50.904" y="46.248" width="610.02" height="465.564"/>
</clipPath>
</defs>
</svg>

</body></html>
